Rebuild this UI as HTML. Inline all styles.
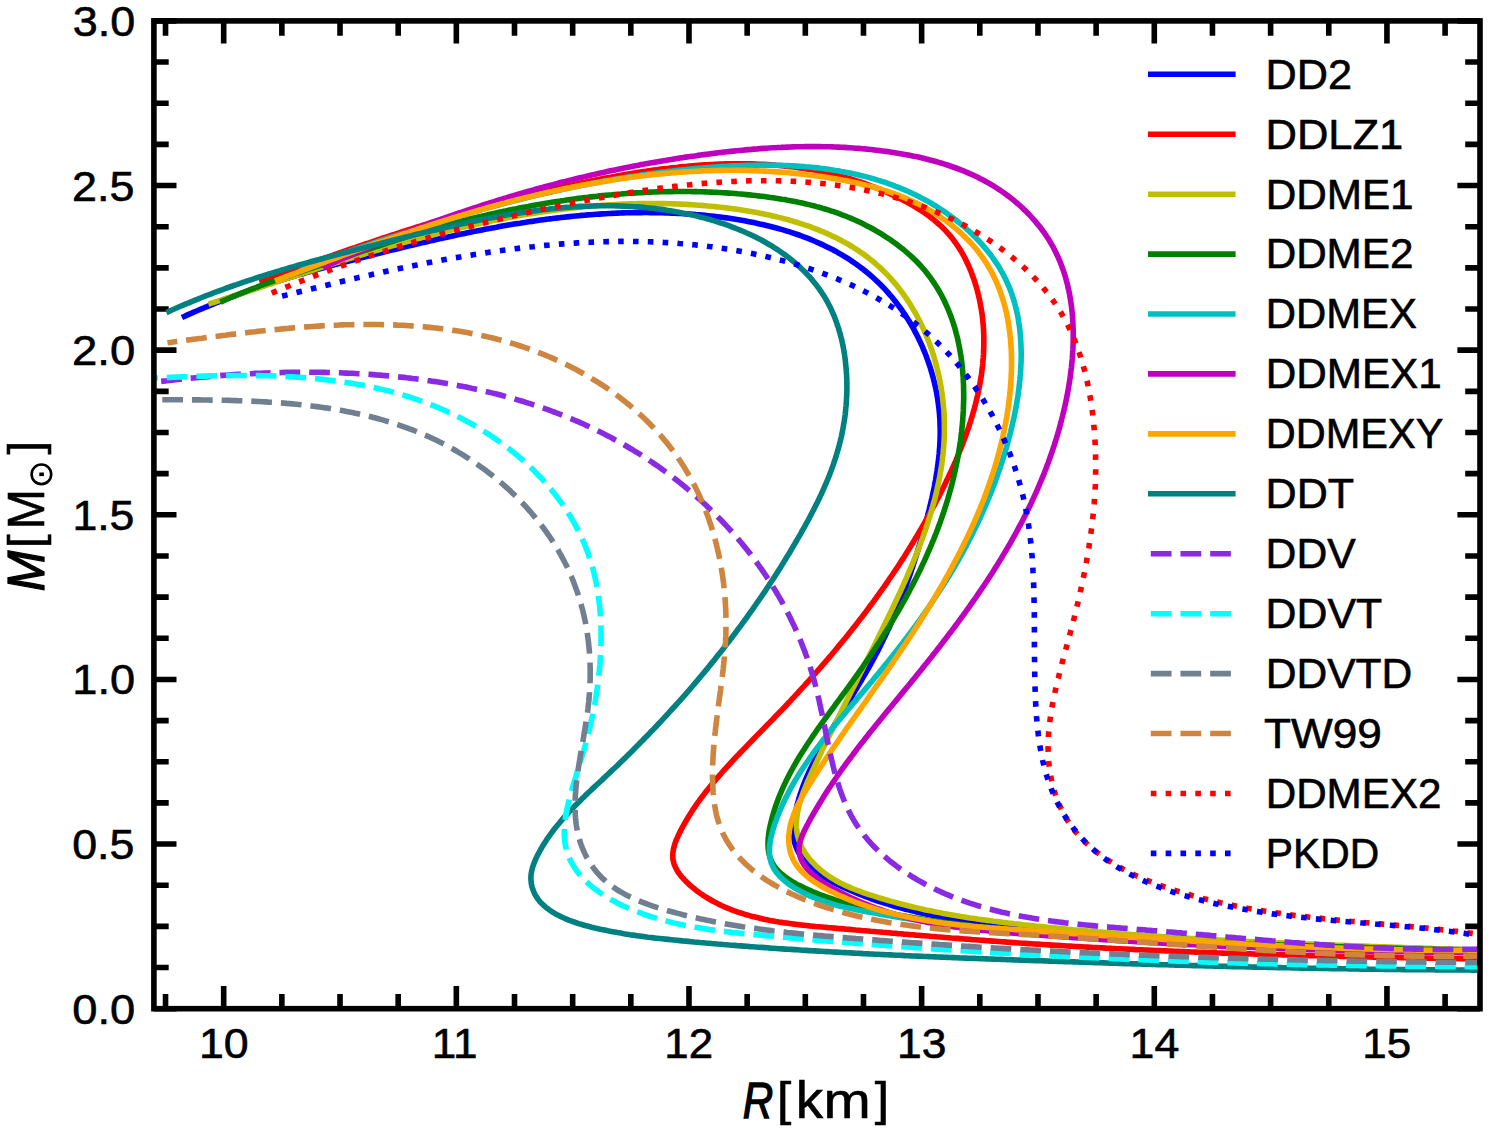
<!DOCTYPE html><html><head><meta charset="utf-8"><style>html,body{margin:0;padding:0;background:#fff;overflow:hidden}svg{display:block}text{font-family:"Liberation Sans",sans-serif;fill:#000;stroke:#000;stroke-width:0.6px}</style></head><body>
<svg width="1490" height="1130" viewBox="0 0 1490 1130">
<rect width="1490" height="1130" fill="#fff"/>
<path d="M165.53 1008.70v-14.8M165.53 20.90v14.8M223.69 1008.70v-22.6M223.69 20.90v22.6M281.86 1008.70v-14.8M281.86 20.90v14.8M340.02 1008.70v-14.8M340.02 20.90v14.8M398.18 1008.70v-14.8M398.18 20.90v14.8M456.34 1008.70v-22.6M456.34 20.90v22.6M514.51 1008.70v-14.8M514.51 20.90v14.8M572.67 1008.70v-14.8M572.67 20.90v14.8M630.83 1008.70v-14.8M630.83 20.90v14.8M688.99 1008.70v-22.6M688.99 20.90v22.6M747.16 1008.70v-14.8M747.16 20.90v14.8M805.32 1008.70v-14.8M805.32 20.90v14.8M863.48 1008.70v-14.8M863.48 20.90v14.8M921.64 1008.70v-22.6M921.64 20.90v22.6M979.80 1008.70v-14.8M979.80 20.90v14.8M1037.97 1008.70v-14.8M1037.97 20.90v14.8M1096.13 1008.70v-14.8M1096.13 20.90v14.8M1154.29 1008.70v-22.6M1154.29 20.90v22.6M1212.45 1008.70v-14.8M1212.45 20.90v14.8M1270.62 1008.70v-14.8M1270.62 20.90v14.8M1328.78 1008.70v-14.8M1328.78 20.90v14.8M1386.94 1008.70v-22.6M1386.94 20.90v22.6M1445.10 1008.70v-14.8M1445.10 20.90v14.8M153.90 1008.70h22.6M1480.00 1008.70h-22.6M153.90 967.54h14.8M1480.00 967.54h-14.8M153.90 926.38h14.8M1480.00 926.38h-14.8M153.90 885.23h14.8M1480.00 885.23h-14.8M153.90 844.07h22.6M1480.00 844.07h-22.6M153.90 802.91h14.8M1480.00 802.91h-14.8M153.90 761.75h14.8M1480.00 761.75h-14.8M153.90 720.59h14.8M1480.00 720.59h-14.8M153.90 679.43h22.6M1480.00 679.43h-22.6M153.90 638.28h14.8M1480.00 638.28h-14.8M153.90 597.12h14.8M1480.00 597.12h-14.8M153.90 555.96h14.8M1480.00 555.96h-14.8M153.90 514.80h22.6M1480.00 514.80h-22.6M153.90 473.64h14.8M1480.00 473.64h-14.8M153.90 432.48h14.8M1480.00 432.48h-14.8M153.90 391.33h14.8M1480.00 391.33h-14.8M153.90 350.17h22.6M1480.00 350.17h-22.6M153.90 309.01h14.8M1480.00 309.01h-14.8M153.90 267.85h14.8M1480.00 267.85h-14.8M153.90 226.69h14.8M1480.00 226.69h-14.8M153.90 185.53h22.6M1480.00 185.53h-22.6M153.90 144.38h14.8M1480.00 144.38h-14.8M153.90 103.22h14.8M1480.00 103.22h-14.8M153.90 62.06h14.8M1480.00 62.06h-14.8M153.90 20.90h22.6M1480.00 20.90h-22.6" stroke="#000" stroke-width="5.6" fill="none"/>
<g clip-path="url(#clip)">
<clipPath id="clip"><rect x="153.9" y="20.9" width="1326.1" height="987.8000000000001"/></clipPath>
<path d="M181.9 317.5 184.7 316.2 187.5 314.9 190.4 313.7 193.2 312.4 196.0 311.2 198.8 310.0 201.5 308.9 204.3 307.7 207.1 306.6 209.9 305.4 212.6 304.3 215.4 303.2 218.1 302.1 220.9 301.0 223.6 300.0 226.4 298.9 229.1 297.9 231.9 296.8 234.6 295.8 237.4 294.8 240.1 293.8 242.9 292.8 245.6 291.9 248.4 290.9 251.1 289.9 253.9 289.0 256.6 288.1 259.4 287.1 262.2 286.2 264.9 285.3 267.7 284.4 270.5 283.5 273.3 282.6 276.1 281.7 278.9 280.8 281.7 280.0 284.5 279.1 287.4 278.2 290.2 277.4 293.0 276.5 295.9 275.7 298.7 274.8 301.6 274.0 304.5 273.2 307.3 272.3 310.2 271.5 313.1 270.7 316.0 269.9 318.8 269.1 321.7 268.3 324.6 267.5 327.5 266.7 330.4 265.9 333.3 265.1 336.3 264.3 339.2 263.5 342.1 262.8 345.0 262.0 347.9 261.2 350.8 260.5 353.8 259.7 356.7 259.0 359.6 258.2 362.5 257.5 365.4 256.7 368.4 256.0 371.3 255.2 374.2 254.5 377.1 253.8 380.1 253.0 383.0 252.3 385.9 251.6 388.8 250.8 391.7 250.1 394.7 249.4 397.6 248.7 400.5 248.0 403.4 247.3 406.3 246.6 409.2 245.9 412.2 245.2 415.1 244.5 418.0 243.8 420.9 243.1 423.8 242.4 426.7 241.8 429.6 241.1 432.5 240.4 435.4 239.8 438.4 239.1 441.3 238.4 444.2 237.8 447.1 237.2 450.0 236.5 452.9 235.9 455.8 235.3 458.7 234.6 461.6 234.0 464.6 233.4 467.5 232.8 470.4 232.2 473.3 231.6 476.2 231.1 479.1 230.5 482.0 229.9 484.9 229.3 487.9 228.8 490.8 228.2 493.7 227.7 496.6 227.2 499.5 226.6 502.4 226.1 505.3 225.6 508.3 225.1 511.2 224.6 514.1 224.1 517.0 223.6 520.0 223.2 522.9 222.7 525.8 222.3 528.7 221.8 531.7 221.4 534.6 220.9 537.5 220.5 540.4 220.1 543.4 219.7 546.3 219.3 549.2 218.9 552.2 218.6 555.1 218.2 558.1 217.9 561.0 217.5 563.9 217.2 566.9 216.9 569.8 216.6 572.8 216.3 575.7 216.0 578.7 215.7 581.6 215.4 584.6 215.2 587.6 214.9 590.5 214.7 593.5 214.5 596.4 214.3 599.4 214.1 602.4 213.9 605.3 213.7 608.3 213.5 611.3 213.4 614.3 213.2 617.3 213.1 620.2 213.0 623.2 212.9 626.2 212.8 629.2 212.7 632.2 212.7 635.2 212.6 638.2 212.6 641.2 212.6 644.2 212.5 647.2 212.5 650.2 212.6 653.2 212.6 656.2 212.6 659.3 212.7 662.3 212.8 665.3 212.9 668.3 213.0 671.4 213.1 674.4 213.2 677.5 213.4 680.5 213.5 683.5 213.7 686.6 213.9 689.6 214.1 692.7 214.3 695.8 214.6 698.8 214.8 701.9 215.1 704.9 215.4 708.0 215.7 711.1 216.0 714.1 216.3 717.2 216.7 720.2 217.1 723.3 217.5 726.3 217.9 729.4 218.3 732.4 218.8 735.5 219.3 738.5 219.8 741.5 220.3 744.6 220.8 747.6 221.4 750.6 222.0 753.6 222.6 756.6 223.2 759.6 223.9 762.6 224.5 765.5 225.2 768.5 225.9 771.5 226.7 774.4 227.5 777.3 228.3 780.3 229.1 783.2 229.9 786.1 230.8 788.9 231.7 791.8 232.6 794.7 233.6 797.5 234.5 800.3 235.5 803.1 236.6 805.9 237.6 808.7 238.7 811.5 239.8 814.2 241.0 816.9 242.2 819.6 243.4 822.3 244.6 825.0 245.9 827.6 247.2 830.3 248.5 832.9 249.8 835.5 251.2 838.0 252.7 840.6 254.1 843.1 255.6 845.6 257.1 848.1 258.7 850.5 260.2 852.9 261.9 855.3 263.5 857.7 265.2 860.0 266.9 862.4 268.7 864.6 270.5 866.9 272.3 869.1 274.2 871.4 276.1 873.5 278.0 875.7 280.0 877.8 282.0 879.9 284.0 881.9 286.1 884.0 288.2 886.0 290.4 887.9 292.5 889.9 294.8 891.8 297.0 893.6 299.3 895.5 301.6 897.3 303.9 899.0 306.3 900.8 308.7 902.5 311.1 904.2 313.5 905.8 316.0 907.4 318.5 909.0 321.0 910.5 323.5 912.0 326.1 913.5 328.7 914.9 331.3 916.3 334.0 917.6 336.6 918.9 339.3 920.2 342.0 921.5 344.7 922.7 347.4 923.8 350.2 925.0 353.0 926.1 355.7 927.1 358.6 928.1 361.4 929.1 364.2 930.1 367.1 930.9 369.9 931.8 372.8 932.6 375.7 933.4 378.6 934.1 381.5 934.8 384.4 935.5 387.4 936.1 390.3 936.7 393.2 937.2 396.2 937.7 399.2 938.1 402.1 938.5 405.1 938.9 408.1 939.2 411.1 939.5 414.1 939.7 417.1 939.9 420.1 940.0 423.1 940.1 426.1 940.2 429.1 940.2 432.1 940.2 435.1 940.1 438.1 940.0 441.1 939.8 444.1 939.7 447.1 939.4 450.2 939.2 453.2 938.9 456.2 938.6 459.2 938.2 462.2 937.8 465.2 937.4 468.2 937.0 471.2 936.5 474.2 936.0 477.2 935.5 480.2 934.9 483.2 934.4 486.2 933.8 489.2 933.2 492.2 932.5 495.2 931.9 498.1 931.2 501.1 930.5 504.1 929.8 507.0 929.1 510.0 928.3 513.0 927.6 515.9 926.8 518.8 926.0 521.8 925.2 524.7 924.4 527.6 923.6 530.6 922.8 533.5 922.0 536.4 921.1 539.3 920.3 542.2 919.4 545.0 918.6 547.9 917.7 550.8 916.8 553.6 915.9 556.5 915.0 559.3 914.1 562.2 913.2 565.0 912.3 567.9 911.3 570.7 910.4 573.5 909.4 576.3 908.4 579.1 907.4 581.9 906.4 584.7 905.4 587.5 904.4 590.2 903.4 593.0 902.3 595.8 901.3 598.5 900.2 601.3 899.1 604.0 898.0 606.8 896.9 609.5 895.7 612.2 894.6 614.9 893.4 617.7 892.3 620.4 891.1 623.1 889.9 625.8 888.7 628.5 887.4 631.1 886.2 633.8 884.9 636.5 883.6 639.1 882.3 641.8 881.0 644.5 879.7 647.1 878.4 649.7 877.0 652.4 875.6 655.0 874.2 657.6 872.8 660.2 871.4 662.9 869.9 665.5 868.5 668.1 867.0 670.7 865.5 673.3 864.0 675.9 862.5 678.4 861.0 681.0 859.4 683.6 857.9 686.2 856.4 688.8 854.8 691.3 853.3 693.9 851.7 696.5 850.1 699.1 848.6 701.6 847.0 704.2 845.4 706.8 843.9 709.4 842.3 711.9 840.7 714.5 839.2 717.1 837.6 719.7 836.1 722.2 834.5 724.8 833.0 727.4 831.4 730.0 829.9 732.6 828.4 735.2 826.9 737.8 825.4 740.4 823.9 743.1 822.5 745.7 821.0 748.3 819.6 751.0 818.1 753.6 816.7 756.2 815.4 758.9 814.0 761.6 812.7 764.3 811.4 767.0 810.1 769.7 808.8 772.4 807.6 775.2 806.4 777.9 805.2 780.7 804.1 783.5 803.0 786.3 802.0 789.2 801.0 792.1 800.0 795.0 799.1 797.9 798.3 800.9 797.5 803.8 796.7 806.9 796.0 809.9 795.3 813.0 794.7 816.1 794.2 819.2 793.8 822.3 793.5 825.4 793.3 828.5 793.3 831.5 793.4 834.5 793.6 837.3 794.1 840.1 794.7 842.9 795.5 845.5 796.5 848.0 797.6 850.5 798.8 852.9 800.2 855.2 801.8 857.5 803.4 859.6 805.2 861.7 807.1 863.8 809.1 865.8 811.3 867.7 813.5 869.5 815.8 871.3 818.1 873.1 820.6 874.8 823.1 876.4 825.7 878.0 828.3 879.6 831.0 881.1 833.7 882.5 836.5 883.9 839.3 885.3 842.1 886.7 844.9 888.0 847.8 889.3 850.6 890.5 853.5 891.7 856.3 892.9 859.2 894.1 862.0 895.2 864.9 896.3 867.8 897.4 870.6 898.5 873.5 899.5 876.4 900.5 879.3 901.5 882.2 902.4 885.1 903.3 887.9 904.2 890.8 905.1 893.7 906.0 896.6 906.8 899.5 907.6 902.4 908.4 905.4 909.2 908.3 909.9 911.2 910.6 914.1 911.3 917.0 912.0 919.9 912.7 922.9 913.3 925.8 914.0 928.7 914.6 931.7 915.2 934.6 915.8 937.5 916.3 940.5 916.9 943.4 917.4 946.4 917.9 949.3 918.4 952.2 918.9 955.2 919.4 958.1 919.8 961.1 920.3 964.1 920.7 967.0 921.1 970.0 921.6 972.9 922.0 975.9 922.3 978.8 922.7 981.8 923.1 984.8 923.5 987.7 923.8 990.7 924.2 993.7 924.5 996.6 924.8 999.6 925.2 1002.6 925.5 1005.6 925.8 1008.5 926.1 1011.5 926.4 1014.5 926.7 1017.4 927.0 1020.4 927.3 1023.4 927.6 1026.4 927.8 1029.4 928.1 1032.3 928.4 1035.3 928.7 1038.3 928.9 1041.3 929.2 1044.2 929.5 1047.2 929.7 1050.2 930.0 1053.2 930.3 1056.2 930.5 1059.1 930.8 1062.1 931.0 1065.1 931.3 1068.1 931.5 1071.1 931.8 1074.0 932.0 1077.0 932.3 1080.0 932.5 1083.0 932.7 1086.0 933.0 1089.0 933.2 1091.9 933.4 1094.9 933.7 1097.9 933.9 1100.9 934.1 1103.9 934.3 1106.9 934.5 1109.8 934.8 1112.8 935.0 1115.8 935.2 1118.8 935.4 1121.8 935.6 1124.8 935.8 1127.8 936.0 1130.8 936.2 1133.7 936.4 1136.7 936.6 1139.7 936.8 1142.7 937.0 1145.7 937.2 1148.7 937.4 1151.7 937.6 1154.7 937.8 1157.7 937.9 1160.6 938.1 1163.6 938.3 1166.6 938.5 1169.6 938.7 1172.6 938.8 1175.6 939.0 1178.6 939.2 1181.6 939.3 1184.6 939.5 1187.6 939.7 1190.6 939.8 1193.6 940.0 1196.5 940.2 1199.5 940.3 1202.5 940.5 1205.5 940.6 1208.5 940.8 1211.5 940.9 1214.5 941.1 1217.5 941.2 1220.5 941.4 1223.5 941.5 1226.5 941.7 1229.5 941.8 1232.5 942.0 1235.5 942.1 1238.5 942.3 1241.4 942.4 1244.4 942.5 1247.4 942.7 1250.4 942.8 1253.4 942.9 1256.4 943.1 1259.4 943.2 1262.4 943.3 1265.4 943.4 1268.4 943.6 1271.4 943.7 1274.4 943.8 1277.4 943.9 1280.4 944.1 1283.4 944.2 1286.4 944.3 1289.4 944.4 1292.4 944.5 1295.4 944.6 1298.4 944.8 1301.4 944.9 1304.4 945.0 1307.4 945.1 1310.3 945.2 1313.3 945.3 1316.3 945.4 1319.3 945.5 1322.3 945.6 1325.3 945.7 1328.3 945.8 1331.3 945.9 1334.3 946.0 1337.3 946.1 1340.3 946.2 1343.3 946.3 1346.3 946.4 1349.3 946.5 1352.3 946.6 1355.3 946.7 1358.3 946.8 1361.3 946.9 1364.3 947.0 1367.3 947.1 1370.3 947.2 1373.3 947.3 1376.3 947.3 1379.3 947.4 1382.2 947.5 1385.2 947.6 1388.2 947.7 1391.2 947.8 1394.2 947.9 1397.2 948.0 1400.2 948.0 1403.2 948.1 1406.2 948.2 1409.2 948.3 1412.2 948.4 1415.2 948.5 1418.2 948.5 1421.2 948.6 1424.2 948.7 1427.2 948.8 1430.2 948.9 1433.1 948.9 1436.1 949.0 1439.1 949.1 1442.1 949.2 1445.1 949.2 1448.1 949.3 1451.1 949.4 1454.1 949.5 1457.1 949.6 1460.1 949.6 1463.1 949.7 1466.1 949.8 1469.1 949.9 1472.0 949.9 1475.0 950.0 1478.0 950.1 1481.0 950.2 1484.0 950.2 1487.0 950.3 1490.0 950.4" stroke="#0000ff" stroke-width="5.6" fill="none" stroke-linejoin="round"/>
<path d="M259.2 281.4 262.0 280.4 264.8 279.4 267.6 278.4 270.5 277.4 273.3 276.4 276.1 275.4 278.9 274.3 281.7 273.3 284.5 272.3 287.4 271.3 290.2 270.3 293.0 269.3 295.8 268.3 298.6 267.3 301.4 266.3 304.2 265.3 307.1 264.3 309.9 263.3 312.7 262.3 315.5 261.3 318.3 260.3 321.1 259.3 324.0 258.3 326.8 257.3 329.6 256.3 332.4 255.4 335.2 254.4 338.0 253.4 340.9 252.4 343.7 251.4 346.5 250.5 349.3 249.5 352.2 248.5 355.0 247.6 357.8 246.6 360.6 245.6 363.4 244.7 366.3 243.7 369.1 242.8 371.9 241.8 374.7 240.9 377.6 239.9 380.4 239.0 383.2 238.0 386.1 237.1 388.9 236.2 391.7 235.2 394.5 234.3 397.4 233.4 400.2 232.5 403.1 231.5 405.9 230.6 408.7 229.7 411.6 228.8 414.4 227.9 417.2 227.0 420.1 226.1 422.9 225.2 425.8 224.3 428.6 223.4 431.5 222.5 434.3 221.7 437.2 220.8 440.0 219.9 442.9 219.0 445.7 218.2 448.6 217.3 451.4 216.4 454.3 215.6 457.2 214.7 460.0 213.9 462.9 213.1 465.7 212.2 468.6 211.4 471.5 210.6 474.4 209.7 477.2 208.9 480.1 208.1 483.0 207.3 485.9 206.5 488.7 205.7 491.6 204.9 494.5 204.1 497.4 203.3 500.3 202.5 503.2 201.8 506.0 201.0 508.9 200.2 511.8 199.5 514.7 198.7 517.6 197.9 520.5 197.2 523.4 196.5 526.3 195.7 529.3 195.0 532.2 194.3 535.1 193.5 538.0 192.8 540.9 192.1 543.8 191.4 546.8 190.7 549.7 190.0 552.6 189.3 555.5 188.7 558.5 188.0 561.4 187.3 564.3 186.7 567.3 186.0 570.2 185.4 573.2 184.7 576.1 184.1 579.1 183.4 582.0 182.8 585.0 182.2 587.9 181.6 590.9 181.0 593.9 180.4 596.8 179.8 599.8 179.2 602.8 178.6 605.7 178.0 608.7 177.5 611.7 176.9 614.7 176.4 617.7 175.8 620.7 175.3 623.6 174.8 626.6 174.3 629.6 173.8 632.6 173.3 635.6 172.8 638.6 172.3 641.6 171.8 644.6 171.4 647.6 170.9 650.6 170.5 653.6 170.1 656.6 169.7 659.6 169.3 662.6 168.9 665.6 168.5 668.6 168.2 671.6 167.8 674.6 167.5 677.6 167.2 680.6 166.8 683.6 166.5 686.7 166.3 689.7 166.0 692.7 165.7 695.7 165.5 698.7 165.3 701.7 165.1 704.7 164.9 707.7 164.7 710.7 164.5 713.7 164.4 716.7 164.2 719.7 164.1 722.7 164.0 725.7 163.9 728.7 163.9 731.6 163.8 734.6 163.8 737.6 163.8 740.6 163.8 743.6 163.8 746.6 163.8 749.6 163.9 752.5 163.9 755.5 164.0 758.5 164.2 761.4 164.3 764.4 164.4 767.4 164.6 770.3 164.8 773.3 165.0 776.3 165.3 779.2 165.5 782.2 165.8 785.1 166.1 788.0 166.4 791.0 166.7 793.9 167.1 796.9 167.5 799.8 167.9 802.7 168.3 805.6 168.8 808.5 169.3 811.5 169.8 814.4 170.3 817.3 170.8 820.2 171.4 823.1 172.0 826.0 172.6 828.8 173.3 831.7 173.9 834.6 174.6 837.5 175.3 840.3 176.1 843.2 176.9 846.0 177.7 848.9 178.5 851.7 179.3 854.6 180.2 857.4 181.1 860.2 182.0 863.1 183.0 865.9 184.0 868.7 185.0 871.5 186.1 874.3 187.1 877.1 188.2 879.9 189.4 882.6 190.5 885.4 191.7 888.2 192.9 890.9 194.2 893.7 195.4 896.4 196.8 899.2 198.1 901.9 199.5 904.6 200.9 907.3 202.3 909.9 203.8 912.6 205.3 915.2 206.9 917.8 208.5 920.4 210.1 922.9 211.8 925.4 213.5 927.9 215.3 930.3 217.1 932.7 218.9 935.0 220.8 937.3 222.8 939.6 224.8 941.8 226.8 943.9 228.9 946.0 231.1 948.0 233.3 950.0 235.6 951.9 237.9 953.7 240.3 955.5 242.7 957.2 245.2 958.9 247.7 960.5 250.3 962.1 252.9 963.5 255.5 965.0 258.2 966.3 261.0 967.6 263.7 968.9 266.5 970.1 269.3 971.2 272.1 972.3 275.0 973.4 277.9 974.4 280.8 975.3 283.7 976.2 286.6 977.0 289.5 977.8 292.5 978.5 295.4 979.2 298.3 979.8 301.3 980.4 304.2 980.9 307.2 981.4 310.1 981.9 313.1 982.3 316.0 982.6 319.0 982.9 322.0 983.2 324.9 983.4 327.9 983.6 330.8 983.7 333.8 983.8 336.7 983.8 339.7 983.8 342.6 983.8 345.5 983.7 348.5 983.6 351.4 983.5 354.4 983.3 357.3 983.0 360.3 982.8 363.2 982.5 366.1 982.1 369.1 981.8 372.0 981.4 374.9 980.9 377.8 980.4 380.8 979.9 383.7 979.4 386.6 978.8 389.5 978.2 392.4 977.6 395.3 976.9 398.2 976.2 401.1 975.5 404.0 974.7 406.9 974.0 409.8 973.1 412.7 972.3 415.6 971.4 418.5 970.6 421.3 969.6 424.2 968.7 427.1 967.7 429.9 966.7 432.8 965.7 435.6 964.7 438.5 963.6 441.3 962.6 444.1 961.5 446.9 960.3 449.8 959.2 452.6 958.0 455.4 956.9 458.2 955.7 461.0 954.5 463.8 953.2 466.5 952.0 469.3 950.7 472.1 949.4 474.8 948.1 477.6 946.8 480.3 945.5 483.1 944.2 485.8 942.8 488.5 941.5 491.2 940.1 493.9 938.7 496.6 937.3 499.3 935.9 502.0 934.5 504.7 933.1 507.3 931.7 510.0 930.2 512.6 928.8 515.3 927.3 517.9 925.9 520.5 924.4 523.1 922.9 525.7 921.4 528.3 919.9 530.9 918.4 533.5 916.9 536.1 915.3 538.6 913.8 541.2 912.2 543.8 910.7 546.3 909.1 548.8 907.5 551.4 905.9 553.9 904.4 556.4 902.8 558.9 901.1 561.4 899.5 563.9 897.9 566.4 896.3 568.9 894.6 571.3 893.0 573.8 891.3 576.3 889.6 578.7 887.9 581.2 886.3 583.6 884.6 586.1 882.9 588.5 881.1 590.9 879.4 593.3 877.7 595.7 876.0 598.1 874.2 600.5 872.5 602.9 870.7 605.3 868.9 607.7 867.1 610.1 865.4 612.5 863.6 614.8 861.8 617.2 859.9 619.5 858.1 621.9 856.3 624.2 854.5 626.6 852.6 628.9 850.8 631.3 848.9 633.6 847.1 635.9 845.2 638.2 843.3 640.5 841.4 642.8 839.5 645.1 837.6 647.4 835.7 649.7 833.8 652.0 831.9 654.3 829.9 656.6 828.0 658.9 826.0 661.2 824.1 663.4 822.1 665.7 820.1 668.0 818.2 670.2 816.2 672.5 814.2 674.7 812.2 677.0 810.2 679.2 808.2 681.5 806.1 683.7 804.1 686.0 802.1 688.2 800.0 690.4 798.0 692.7 795.9 694.9 793.9 697.1 791.8 699.3 789.7 701.6 787.6 703.8 785.6 706.0 783.5 708.2 781.4 710.4 779.2 712.6 777.1 714.8 775.0 717.0 772.9 719.2 770.7 721.4 768.6 723.6 766.4 725.8 764.3 728.0 762.1 730.2 760.0 732.4 757.8 734.6 755.7 736.8 753.5 739.0 751.4 741.2 749.2 743.4 747.1 745.7 744.9 747.9 742.8 750.1 740.7 752.3 738.6 754.5 736.4 756.7 734.3 759.0 732.3 761.2 730.2 763.5 728.1 765.7 726.1 768.0 724.0 770.2 722.0 772.5 720.0 774.8 718.0 777.1 716.0 779.4 714.1 781.7 712.2 784.0 710.3 786.3 708.4 788.7 706.5 791.0 704.7 793.4 702.9 795.8 701.1 798.1 699.3 800.5 697.6 802.9 695.9 805.4 694.2 807.8 692.6 810.3 691.0 812.7 689.4 815.2 687.9 817.7 686.4 820.2 684.9 822.8 683.5 825.3 682.1 827.9 680.8 830.4 679.5 833.0 678.2 835.7 677.0 838.3 675.9 840.9 675.0 843.5 674.2 846.2 673.5 848.8 673.1 851.4 672.8 854.0 672.7 856.5 672.9 859.1 673.4 861.6 674.1 864.1 675.1 866.5 676.3 868.9 677.6 871.3 679.2 873.6 680.9 875.8 682.8 878.0 684.8 880.2 686.9 882.3 689.1 884.4 691.3 886.4 693.7 888.3 696.0 890.2 698.4 892.0 700.9 893.7 703.3 895.4 705.8 897.0 708.4 898.5 710.9 900.0 713.5 901.5 716.1 902.8 718.8 904.2 721.4 905.5 724.1 906.7 726.8 907.9 729.6 909.0 732.3 910.1 735.1 911.1 737.9 912.1 740.8 913.0 743.6 913.9 746.5 914.8 749.3 915.6 752.2 916.4 755.2 917.1 758.1 917.8 761.0 918.5 764.0 919.2 767.0 919.8 770.0 920.4 773.0 920.9 776.0 921.5 779.0 922.0 782.0 922.4 785.1 922.9 788.1 923.3 791.2 923.7 794.3 924.1 797.3 924.5 800.4 924.9 803.5 925.2 806.5 925.5 809.6 925.9 812.7 926.2 815.8 926.5 818.9 926.7 822.0 927.0 825.0 927.3 828.1 927.6 831.2 927.8 834.3 928.1 837.3 928.4 840.4 928.6 843.5 928.9 846.5 929.2 849.6 929.4 852.6 929.7 855.7 930.0 858.7 930.2 861.7 930.5 864.8 930.7 867.8 931.0 870.8 931.3 873.8 931.5 876.8 931.8 879.8 932.0 882.9 932.3 885.9 932.5 888.9 932.8 891.9 933.1 894.9 933.3 897.9 933.6 900.8 933.8 903.8 934.1 906.8 934.3 909.8 934.6 912.8 934.8 915.8 935.1 918.7 935.3 921.7 935.6 924.7 935.8 927.7 936.0 930.6 936.3 933.6 936.5 936.6 936.8 939.5 937.0 942.5 937.2 945.4 937.5 948.4 937.7 951.4 938.0 954.3 938.2 957.3 938.4 960.2 938.6 963.2 938.9 966.2 939.1 969.1 939.3 972.1 939.6 975.0 939.8 978.0 940.0 980.9 940.2 983.9 940.4 986.8 940.7 989.8 940.9 992.7 941.1 995.7 941.3 998.6 941.5 1001.6 941.7 1004.6 941.9 1007.5 942.2 1010.5 942.4 1013.4 942.6 1016.4 942.8 1019.3 943.0 1022.3 943.2 1025.3 943.4 1028.2 943.6 1031.2 943.8 1034.2 944.0 1037.1 944.1 1040.1 944.3 1043.1 944.5 1046.0 944.7 1049.0 944.9 1052.0 945.1 1055.0 945.3 1057.9 945.4 1060.9 945.6 1063.9 945.8 1066.9 946.0 1069.9 946.1 1072.8 946.3 1075.8 946.5 1078.8 946.6 1081.8 946.8 1084.8 947.0 1087.8 947.1 1090.8 947.3 1093.7 947.5 1096.7 947.6 1099.7 947.8 1102.7 947.9 1105.7 948.1 1108.7 948.2 1111.7 948.4 1114.7 948.5 1117.7 948.7 1120.7 948.8 1123.7 949.0 1126.7 949.1 1129.7 949.3 1132.7 949.4 1135.7 949.6 1138.7 949.7 1141.7 949.8 1144.7 950.0 1147.7 950.1 1150.7 950.2 1153.7 950.4 1156.7 950.5 1159.7 950.6 1162.7 950.8 1165.7 950.9 1168.7 951.0 1171.7 951.1 1174.7 951.3 1177.7 951.4 1180.7 951.5 1183.8 951.6 1186.8 951.7 1189.8 951.9 1192.8 952.0 1195.8 952.1 1198.8 952.2 1201.8 952.3 1204.8 952.4 1207.8 952.5 1210.9 952.6 1213.9 952.7 1216.9 952.9 1219.9 953.0 1222.9 953.1 1225.9 953.2 1228.9 953.3 1231.9 953.4 1235.0 953.5 1238.0 953.6 1241.0 953.7 1244.0 953.8 1247.0 953.9 1250.0 953.9 1253.0 954.0 1256.1 954.1 1259.1 954.2 1262.1 954.3 1265.1 954.4 1268.1 954.5 1271.1 954.6 1274.1 954.7 1277.2 954.8 1280.2 954.8 1283.2 954.9 1286.2 955.0 1289.2 955.1 1292.2 955.2 1295.2 955.3 1298.2 955.3 1301.3 955.4 1304.3 955.5 1307.3 955.6 1310.3 955.6 1313.3 955.7 1316.3 955.8 1319.3 955.9 1322.3 955.9 1325.3 956.0 1328.4 956.1 1331.4 956.2 1334.4 956.2 1337.4 956.3 1340.4 956.4 1343.4 956.4 1346.4 956.5 1349.4 956.6 1352.4 956.6 1355.4 956.7 1358.4 956.8 1361.4 956.8 1364.4 956.9 1367.4 957.0 1370.4 957.0 1373.4 957.1 1376.4 957.1 1379.4 957.2 1382.4 957.3 1385.4 957.3 1388.4 957.4 1391.4 957.4 1394.4 957.5 1397.4 957.5 1400.4 957.6 1403.4 957.7 1406.4 957.7 1409.4 957.8 1412.4 957.8 1415.4 957.9 1418.4 957.9 1421.4 958.0 1424.3 958.0 1427.3 958.1 1430.3 958.1 1433.3 958.2 1436.3 958.2 1439.3 958.3 1442.2 958.3 1445.2 958.4 1448.2 958.4 1451.2 958.5 1454.2 958.5 1457.1 958.6 1460.1 958.6 1463.1 958.7 1466.1 958.7 1469.0 958.8 1472.0 958.8 1475.0 958.9 1477.9 958.9 1480.9 959.0 1483.9 959.0 1486.8 959.1 1489.8 959.1" stroke="#ff0000" stroke-width="5.6" fill="none" stroke-linejoin="round"/>
<path d="M208.4 304.1 211.3 303.2 214.1 302.3 217.0 301.3 219.9 300.4 222.8 299.5 225.7 298.5 228.5 297.6 231.4 296.7 234.3 295.7 237.2 294.8 240.0 293.8 242.9 292.9 245.8 292.0 248.7 291.0 251.5 290.1 254.4 289.1 257.3 288.2 260.2 287.3 263.0 286.3 265.9 285.4 268.8 284.4 271.6 283.5 274.5 282.6 277.4 281.6 280.3 280.7 283.1 279.7 286.0 278.8 288.9 277.9 291.7 276.9 294.6 276.0 297.5 275.1 300.3 274.2 303.2 273.2 306.1 272.3 308.9 271.4 311.8 270.5 314.7 269.5 317.6 268.6 320.4 267.7 323.3 266.8 326.2 265.9 329.0 265.0 331.9 264.1 334.8 263.2 337.6 262.3 340.5 261.4 343.4 260.5 346.2 259.6 349.1 258.7 352.0 257.8 354.9 256.9 357.7 256.0 360.6 255.2 363.5 254.3 366.4 253.4 369.2 252.6 372.1 251.7 375.0 250.9 377.8 250.0 380.7 249.2 383.6 248.3 386.5 247.5 389.3 246.6 392.2 245.8 395.1 245.0 398.0 244.2 400.9 243.4 403.7 242.6 406.6 241.8 409.5 241.0 412.4 240.2 415.3 239.4 418.1 238.6 421.0 237.8 423.9 237.1 426.8 236.3 429.7 235.5 432.6 234.8 435.5 234.0 438.4 233.3 441.2 232.6 444.1 231.8 447.0 231.1 449.9 230.4 452.8 229.7 455.7 229.0 458.6 228.3 461.5 227.6 464.4 227.0 467.3 226.3 470.2 225.6 473.1 225.0 476.0 224.3 478.9 223.7 481.8 223.1 484.7 222.4 487.6 221.8 490.5 221.2 493.5 220.6 496.4 220.0 499.3 219.5 502.2 218.9 505.1 218.3 508.0 217.8 510.9 217.2 513.9 216.7 516.8 216.2 519.7 215.6 522.6 215.1 525.6 214.6 528.5 214.1 531.4 213.7 534.4 213.2 537.3 212.7 540.2 212.3 543.2 211.8 546.1 211.4 549.0 211.0 552.0 210.6 554.9 210.2 557.9 209.8 560.8 209.4 563.8 209.0 566.7 208.7 569.7 208.3 572.6 208.0 575.6 207.7 578.5 207.4 581.5 207.1 584.5 206.8 587.4 206.5 590.4 206.2 593.4 206.0 596.3 205.7 599.3 205.5 602.3 205.3 605.3 205.1 608.2 204.9 611.2 204.7 614.2 204.5 617.2 204.4 620.2 204.2 623.2 204.1 626.2 204.0 629.2 203.8 632.2 203.8 635.2 203.7 638.2 203.6 641.2 203.6 644.2 203.5 647.2 203.5 650.2 203.5 653.2 203.5 656.2 203.5 659.2 203.5 662.3 203.6 665.3 203.6 668.3 203.7 671.3 203.8 674.4 203.9 677.4 204.0 680.5 204.1 683.5 204.3 686.5 204.4 689.6 204.6 692.6 204.8 695.7 205.0 698.7 205.2 701.8 205.4 704.9 205.7 707.9 206.0 711.0 206.2 714.1 206.5 717.1 206.9 720.2 207.2 723.3 207.5 726.3 207.9 729.4 208.3 732.5 208.7 735.6 209.1 738.6 209.5 741.7 210.0 744.7 210.5 747.8 211.0 750.9 211.5 753.9 212.0 757.0 212.6 760.0 213.2 763.0 213.8 766.0 214.4 769.1 215.0 772.1 215.7 775.1 216.4 778.0 217.1 781.0 217.9 784.0 218.7 786.9 219.4 789.9 220.3 792.8 221.1 795.7 222.0 798.6 222.9 801.5 223.8 804.4 224.8 807.2 225.7 810.1 226.7 812.9 227.8 815.7 228.8 818.5 229.9 821.2 231.1 824.0 232.2 826.7 233.4 829.4 234.6 832.1 235.9 834.7 237.1 837.4 238.5 840.0 239.8 842.6 241.2 845.2 242.6 847.7 244.0 850.2 245.5 852.7 247.0 855.2 248.6 857.6 250.1 860.0 251.8 862.4 253.4 864.8 255.1 867.1 256.8 869.4 258.6 871.6 260.4 873.9 262.2 876.0 264.1 878.2 266.0 880.3 267.9 882.4 269.9 884.5 272.0 886.5 274.0 888.5 276.1 890.5 278.2 892.4 280.4 894.3 282.6 896.2 284.8 898.0 287.1 899.8 289.4 901.6 291.7 903.3 294.1 905.0 296.5 906.6 298.9 908.3 301.4 909.8 303.8 911.4 306.3 912.9 308.9 914.4 311.4 915.9 314.0 917.3 316.6 918.6 319.2 920.0 321.9 921.3 324.5 922.6 327.2 923.8 329.9 925.0 332.7 926.2 335.4 927.3 338.2 928.4 341.0 929.5 343.8 930.5 346.6 931.5 349.4 932.5 352.3 933.4 355.2 934.3 358.0 935.1 360.9 935.9 363.8 936.7 366.8 937.4 369.7 938.1 372.6 938.8 375.6 939.4 378.5 940.0 381.5 940.6 384.5 941.1 387.5 941.6 390.5 942.0 393.5 942.4 396.5 942.8 399.5 943.1 402.5 943.4 405.5 943.7 408.5 943.9 411.5 944.1 414.5 944.2 417.6 944.3 420.6 944.4 423.6 944.4 426.6 944.4 429.6 944.4 432.6 944.3 435.6 944.2 438.6 944.0 441.6 943.8 444.6 943.6 447.6 943.4 450.6 943.1 453.6 942.7 456.6 942.4 459.6 942.0 462.5 941.6 465.5 941.1 468.5 940.6 471.4 940.1 474.4 939.6 477.4 939.0 480.3 938.4 483.3 937.8 486.2 937.1 489.2 936.4 492.1 935.7 495.0 935.0 498.0 934.2 500.9 933.4 503.8 932.6 506.7 931.8 509.6 931.0 512.5 930.1 515.4 929.2 518.3 928.3 521.2 927.3 524.1 926.4 527.0 925.4 529.9 924.4 532.7 923.4 535.6 922.4 538.5 921.3 541.3 920.2 544.2 919.2 547.0 918.1 549.9 917.0 552.7 915.8 555.5 914.7 558.4 913.5 561.2 912.4 564.0 911.2 566.8 910.0 569.6 908.8 572.4 907.6 575.2 906.4 578.0 905.2 580.8 903.9 583.5 902.7 586.3 901.4 589.1 900.2 591.8 898.9 594.6 897.6 597.3 896.4 600.0 895.1 602.8 893.8 605.5 892.5 608.2 891.2 610.9 889.9 613.6 888.6 616.3 887.3 619.0 886.0 621.7 884.7 624.3 883.4 627.0 882.1 629.7 880.8 632.3 879.5 635.0 878.2 637.6 876.9 640.3 875.6 642.9 874.3 645.6 873.0 648.2 871.7 650.8 870.4 653.5 869.1 656.1 867.7 658.7 866.4 661.3 865.1 664.0 863.8 666.6 862.5 669.2 861.2 671.8 859.8 674.5 858.5 677.1 857.2 679.7 855.9 682.3 854.6 685.0 853.2 687.6 851.9 690.2 850.6 692.9 849.3 695.5 847.9 698.2 846.6 700.8 845.3 703.5 843.9 706.2 842.6 708.8 841.3 711.5 839.9 714.2 838.6 716.9 837.2 719.6 835.9 722.3 834.6 725.0 833.2 727.7 831.9 730.5 830.5 733.2 829.2 735.9 827.8 738.7 826.5 741.5 825.2 744.2 823.8 747.0 822.4 749.8 821.1 752.6 819.7 755.5 818.4 758.3 817.0 761.2 815.7 764.0 814.3 766.9 813.0 769.8 811.6 772.7 810.3 775.6 809.0 778.5 807.7 781.4 806.5 784.4 805.3 787.3 804.1 790.2 803.0 793.1 802.0 796.0 801.0 798.9 800.1 801.8 799.3 804.7 798.6 807.6 798.0 810.4 797.4 813.3 797.0 816.1 796.7 818.9 796.5 821.7 796.4 824.4 796.5 827.2 796.7 829.9 797.0 832.5 797.5 835.2 798.2 837.8 798.9 840.3 799.9 842.8 800.9 845.3 802.1 847.8 803.5 850.2 804.9 852.5 806.5 854.9 808.2 857.1 809.9 859.4 811.8 861.5 813.8 863.6 815.9 865.7 818.0 867.7 820.3 869.7 822.6 871.6 825.0 873.4 827.5 875.2 830.0 876.9 832.6 878.6 835.3 880.2 838.0 881.7 840.7 883.2 843.5 884.5 846.3 885.9 849.2 887.1 852.0 888.4 854.9 889.5 857.9 890.6 860.8 891.7 863.7 892.8 866.7 893.8 869.7 894.8 872.6 895.7 875.6 896.7 878.5 897.6 881.5 898.5 884.5 899.4 887.4 900.2 890.4 901.1 893.3 901.9 896.3 902.7 899.2 903.5 902.2 904.3 905.1 905.0 908.1 905.8 911.0 906.5 914.0 907.2 916.9 907.9 919.9 908.6 922.8 909.2 925.8 909.9 928.7 910.5 931.7 911.1 934.6 911.7 937.6 912.3 940.5 912.8 943.4 913.4 946.4 913.9 949.3 914.5 952.3 915.0 955.2 915.5 958.2 916.0 961.1 916.5 964.1 916.9 967.0 917.4 970.0 917.9 972.9 918.3 975.9 918.7 978.8 919.2 981.8 919.6 984.7 920.0 987.7 920.4 990.6 920.8 993.6 921.2 996.5 921.5 999.5 921.9 1002.4 922.3 1005.4 922.6 1008.3 923.0 1011.3 923.3 1014.2 923.7 1017.2 924.0 1020.2 924.3 1023.1 924.7 1026.1 925.0 1029.0 925.3 1032.0 925.6 1035.0 926.0 1037.9 926.3 1040.9 926.6 1043.9 926.9 1046.8 927.2 1049.8 927.5 1052.8 927.8 1055.7 928.1 1058.7 928.4 1061.7 928.6 1064.6 928.9 1067.6 929.2 1070.6 929.5 1073.6 929.8 1076.5 930.0 1079.5 930.3 1082.5 930.6 1085.5 930.8 1088.5 931.1 1091.4 931.3 1094.4 931.6 1097.4 931.9 1100.4 932.1 1103.4 932.3 1106.3 932.6 1109.3 932.8 1112.3 933.1 1115.3 933.3 1118.3 933.5 1121.3 933.8 1124.3 934.0 1127.2 934.2 1130.2 934.4 1133.2 934.7 1136.2 934.9 1139.2 935.1 1142.2 935.3 1145.2 935.5 1148.2 935.7 1151.2 935.9 1154.2 936.1 1157.1 936.3 1160.1 936.5 1163.1 936.7 1166.1 936.9 1169.1 937.1 1172.1 937.3 1175.1 937.5 1178.1 937.7 1181.1 937.8 1184.1 938.0 1187.1 938.2 1190.1 938.4 1193.1 938.5 1196.1 938.7 1199.1 938.9 1202.1 939.1 1205.1 939.2 1208.1 939.4 1211.1 939.6 1214.1 939.7 1217.1 939.9 1220.1 940.0 1223.1 940.2 1226.1 940.3 1229.1 940.5 1232.1 940.7 1235.1 940.8 1238.1 941.0 1241.1 941.1 1244.1 941.2 1247.1 941.4 1250.1 941.5 1253.1 941.7 1256.1 941.8 1259.1 942.0 1262.1 942.1 1265.1 942.2 1268.1 942.4 1271.1 942.5 1274.1 942.6 1277.2 942.8 1280.2 942.9 1283.2 943.0 1286.2 943.1 1289.2 943.3 1292.2 943.4 1295.2 943.5 1298.2 943.6 1301.2 943.8 1304.2 943.9 1307.2 944.0 1310.2 944.1 1313.2 944.2 1316.2 944.4 1319.2 944.5 1322.2 944.6 1325.2 944.7 1328.2 944.8 1331.2 944.9 1334.2 945.0 1337.2 945.2 1340.2 945.3 1343.2 945.4 1346.2 945.5 1349.2 945.6 1352.2 945.7 1355.2 945.8 1358.3 945.9 1361.3 946.0 1364.3 946.1 1367.3 946.2 1370.3 946.4 1373.3 946.5 1376.3 946.6 1379.3 946.7 1382.3 946.8 1385.3 946.9 1388.3 947.0 1391.2 947.1 1394.2 947.2 1397.2 947.3 1400.2 947.4 1403.2 947.5 1406.2 947.6 1409.2 947.7 1412.2 947.8 1415.2 947.9 1418.2 948.0 1421.2 948.1 1424.2 948.2 1427.2 948.3 1430.2 948.4 1433.2 948.6 1436.2 948.7 1439.2 948.8 1442.2 948.9 1445.1 949.0 1448.1 949.1 1451.1 949.2 1454.1 949.3 1457.1 949.4 1460.1 949.5 1463.1 949.6 1466.1 949.7 1469.0 949.8 1472.0 949.9 1475.0 950.1 1478.0 950.2 1481.0 950.3 1484.0 950.4 1486.9 950.5 1489.9 950.6" stroke="#bfbf00" stroke-width="5.6" fill="none" stroke-linejoin="round"/>
<path d="M220.3 302.1 223.1 300.9 225.8 299.7 228.6 298.5 231.4 297.3 234.1 296.1 236.9 295.0 239.7 293.8 242.5 292.7 245.3 291.6 248.0 290.5 250.8 289.4 253.6 288.3 256.4 287.3 259.2 286.2 262.0 285.2 264.8 284.2 267.6 283.2 270.5 282.1 273.3 281.1 276.1 280.2 278.9 279.2 281.7 278.2 284.5 277.2 287.4 276.3 290.2 275.3 293.0 274.4 295.9 273.4 298.7 272.5 301.5 271.5 304.4 270.6 307.2 269.7 310.0 268.7 312.9 267.8 315.7 266.8 318.6 265.9 321.4 265.0 324.3 264.0 327.1 263.1 330.0 262.2 332.8 261.2 335.7 260.3 338.5 259.3 341.4 258.4 344.2 257.4 347.1 256.5 349.9 255.5 352.8 254.5 355.6 253.6 358.5 252.6 361.3 251.7 364.2 250.7 367.0 249.8 369.9 248.8 372.7 247.9 375.6 246.9 378.5 246.0 381.3 245.0 384.2 244.1 387.0 243.1 389.9 242.2 392.7 241.3 395.6 240.4 398.4 239.4 401.3 238.5 404.2 237.6 407.0 236.7 409.9 235.8 412.7 234.9 415.6 234.1 418.4 233.2 421.3 232.3 424.1 231.5 427.0 230.6 429.8 229.8 432.7 229.0 435.5 228.1 438.4 227.3 441.2 226.5 444.1 225.8 446.9 225.0 449.8 224.2 452.6 223.4 455.5 222.7 458.4 221.9 461.2 221.2 464.1 220.5 467.0 219.8 469.8 219.0 472.7 218.3 475.6 217.6 478.5 216.9 481.4 216.3 484.3 215.6 487.2 214.9 490.1 214.2 493.0 213.6 495.9 212.9 498.8 212.3 501.8 211.7 504.7 211.1 507.6 210.4 510.5 209.8 513.5 209.2 516.4 208.7 519.4 208.1 522.3 207.5 525.3 206.9 528.2 206.4 531.2 205.8 534.1 205.3 537.1 204.8 540.1 204.3 543.0 203.8 546.0 203.3 549.0 202.8 551.9 202.3 554.9 201.8 557.9 201.4 560.9 200.9 563.9 200.5 566.8 200.0 569.8 199.6 572.8 199.2 575.8 198.8 578.8 198.4 581.8 198.0 584.8 197.6 587.8 197.3 590.8 196.9 593.8 196.6 596.8 196.3 599.8 195.9 602.8 195.6 605.8 195.3 608.8 195.0 611.8 194.8 614.8 194.5 617.8 194.2 620.8 194.0 623.8 193.7 626.8 193.5 629.9 193.3 632.9 193.1 635.9 192.9 638.9 192.7 641.9 192.6 644.9 192.4 647.9 192.3 650.9 192.1 653.9 192.0 656.9 191.9 660.0 191.8 663.0 191.7 666.0 191.7 669.0 191.6 672.0 191.6 675.0 191.5 678.0 191.5 681.0 191.5 684.0 191.5 687.0 191.5 690.0 191.5 693.0 191.6 696.0 191.6 699.0 191.7 702.0 191.8 705.0 191.9 708.0 192.0 710.9 192.1 713.9 192.2 716.9 192.4 719.9 192.5 722.9 192.7 725.9 192.9 728.8 193.1 731.8 193.3 734.8 193.5 737.7 193.8 740.7 194.0 743.7 194.3 746.6 194.6 749.6 194.9 752.5 195.2 755.5 195.5 758.4 195.9 761.4 196.2 764.3 196.6 767.3 197.0 770.2 197.4 773.1 197.8 776.0 198.2 779.0 198.7 781.9 199.2 784.8 199.6 787.7 200.2 790.6 200.7 793.5 201.2 796.4 201.8 799.3 202.4 802.2 203.0 805.1 203.7 808.0 204.4 810.8 205.1 813.7 205.8 816.6 206.6 819.4 207.3 822.3 208.2 825.1 209.0 828.0 209.9 830.8 210.8 833.6 211.7 836.4 212.7 839.3 213.7 842.1 214.8 844.9 215.8 847.7 217.0 850.5 218.1 853.2 219.3 856.0 220.5 858.8 221.8 861.5 223.1 864.3 224.5 867.0 225.9 869.8 227.3 872.5 228.8 875.2 230.3 877.9 231.9 880.5 233.4 883.2 235.1 885.8 236.8 888.4 238.5 891.0 240.2 893.5 242.0 896.0 243.8 898.5 245.7 900.9 247.6 903.4 249.5 905.7 251.5 908.0 253.5 910.3 255.5 912.6 257.6 914.8 259.7 916.9 261.8 919.0 264.0 921.0 266.2 923.0 268.5 925.0 270.7 926.8 273.0 928.7 275.4 930.4 277.7 932.1 280.1 933.8 282.6 935.4 285.0 937.0 287.5 938.5 290.0 940.0 292.6 941.4 295.1 942.7 297.7 944.1 300.3 945.3 303.0 946.5 305.6 947.7 308.3 948.8 311.0 949.9 313.7 951.0 316.5 951.9 319.2 952.9 322.0 953.8 324.8 954.7 327.6 955.5 330.5 956.2 333.3 957.0 336.2 957.7 339.1 958.3 342.0 958.9 344.9 959.5 347.8 960.0 350.7 960.5 353.7 961.0 356.6 961.4 359.6 961.8 362.6 962.1 365.5 962.4 368.5 962.7 371.5 962.9 374.5 963.2 377.6 963.3 380.6 963.5 383.6 963.6 386.6 963.6 389.6 963.7 392.7 963.7 395.7 963.7 398.7 963.6 401.8 963.5 404.8 963.4 407.8 963.3 410.9 963.1 413.9 962.9 416.9 962.7 419.9 962.5 422.9 962.2 425.9 961.9 429.0 961.6 431.9 961.2 434.9 960.9 437.9 960.5 440.9 960.0 443.9 959.6 446.8 959.1 449.8 958.6 452.7 958.1 455.7 957.6 458.6 957.0 461.6 956.5 464.5 955.8 467.4 955.2 470.3 954.6 473.2 953.9 476.1 953.2 479.0 952.5 481.9 951.8 484.8 951.0 487.7 950.2 490.5 949.4 493.4 948.6 496.3 947.8 499.1 946.9 502.0 946.0 504.8 945.1 507.6 944.2 510.5 943.3 513.3 942.3 516.1 941.3 518.9 940.4 521.7 939.3 524.5 938.3 527.3 937.3 530.1 936.2 532.9 935.1 535.6 934.0 538.4 932.9 541.2 931.7 543.9 930.6 546.7 929.4 549.4 928.2 552.2 927.0 554.9 925.8 557.6 924.6 560.3 923.3 563.1 922.0 565.8 920.8 568.5 919.5 571.2 918.1 573.9 916.8 576.6 915.5 579.2 914.1 581.9 912.7 584.6 911.3 587.2 909.9 589.9 908.5 592.6 907.1 595.2 905.7 597.9 904.2 600.5 902.7 603.1 901.3 605.8 899.8 608.4 898.3 611.0 896.7 613.6 895.2 616.2 893.7 618.8 892.1 621.4 890.6 624.0 889.0 626.6 887.4 629.2 885.8 631.7 884.2 634.3 882.6 636.9 880.9 639.4 879.3 642.0 877.6 644.5 876.0 647.1 874.3 649.6 872.6 652.2 871.0 654.7 869.3 657.2 867.6 659.7 865.8 662.3 864.1 664.8 862.4 667.3 860.6 669.8 858.9 672.3 857.2 674.8 855.4 677.2 853.6 679.7 851.9 682.2 850.1 684.7 848.3 687.1 846.5 689.6 844.7 692.1 842.9 694.5 841.1 697.0 839.3 699.4 837.5 701.9 835.7 704.3 833.9 706.8 832.1 709.2 830.3 711.7 828.5 714.1 826.7 716.6 824.9 719.0 823.2 721.5 821.4 723.9 819.7 726.4 817.9 728.8 816.2 731.3 814.5 733.8 812.8 736.2 811.1 738.7 809.4 741.2 807.7 743.7 806.1 746.2 804.5 748.7 802.9 751.2 801.3 753.7 799.7 756.3 798.2 758.8 796.7 761.3 795.2 763.9 793.7 766.5 792.3 769.0 790.9 771.6 789.5 774.2 788.2 776.9 786.8 779.5 785.6 782.1 784.3 784.8 783.1 787.4 781.9 790.1 780.7 792.8 779.6 795.5 778.5 798.3 777.5 801.0 776.5 803.8 775.5 806.5 774.6 809.3 773.7 812.2 772.9 815.0 772.1 817.8 771.4 820.7 770.7 823.6 770.0 826.5 769.4 829.4 769.0 832.3 768.6 835.3 768.2 838.1 768.1 841.0 768.0 843.9 768.1 846.7 768.3 849.4 768.7 852.1 769.2 854.8 770.0 857.4 770.9 859.9 772.0 862.4 773.4 864.7 774.9 867.0 776.7 869.2 778.6 871.3 780.8 873.3 783.1 875.2 785.5 877.1 788.0 878.9 790.7 880.6 793.4 882.3 796.2 883.9 799.1 885.4 802.1 886.8 805.0 888.3 808.0 889.6 810.9 890.9 813.9 892.2 816.9 893.4 819.8 894.5 822.7 895.6 825.6 896.7 828.6 897.7 831.5 898.7 834.4 899.7 837.3 900.6 840.2 901.5 843.1 902.4 846.0 903.2 848.9 904.0 851.8 904.8 854.7 905.5 857.6 906.3 860.4 907.0 863.3 907.7 866.2 908.3 869.1 909.0 872.0 909.6 874.9 910.3 877.8 910.9 880.7 911.5 883.6 912.1 886.6 912.7 889.5 913.3 892.4 913.9 895.3 914.4 898.2 915.0 901.2 915.5 904.1 916.0 907.0 916.6 910.0 917.1 912.9 917.6 915.8 918.0 918.8 918.5 921.7 919.0 924.7 919.5 927.6 919.9 930.6 920.4 933.5 920.8 936.5 921.2 939.4 921.6 942.4 922.1 945.4 922.5 948.3 922.9 951.3 923.2 954.3 923.6 957.2 924.0 960.2 924.4 963.2 924.7 966.1 925.1 969.1 925.4 972.1 925.8 975.0 926.1 978.0 926.5 981.0 926.8 984.0 927.1 987.0 927.4 989.9 927.7 992.9 928.0 995.9 928.3 998.9 928.6 1001.9 928.9 1004.8 929.2 1007.8 929.5 1010.8 929.8 1013.8 930.0 1016.8 930.3 1019.8 930.6 1022.8 930.8 1025.7 931.1 1028.7 931.4 1031.7 931.6 1034.7 931.9 1037.7 932.1 1040.7 932.4 1043.7 932.6 1046.7 932.9 1049.7 933.1 1052.6 933.3 1055.6 933.6 1058.6 933.8 1061.6 934.0 1064.6 934.2 1067.6 934.5 1070.6 934.7 1073.6 934.9 1076.6 935.1 1079.5 935.3 1082.5 935.5 1085.5 935.8 1088.5 936.0 1091.5 936.2 1094.5 936.4 1097.5 936.6 1100.5 936.8 1103.5 936.9 1106.5 937.1 1109.5 937.3 1112.5 937.5 1115.4 937.7 1118.4 937.9 1121.4 938.1 1124.4 938.2 1127.4 938.4 1130.4 938.6 1133.4 938.7 1136.4 938.9 1139.4 939.1 1142.4 939.2 1145.4 939.4 1148.4 939.6 1151.4 939.7 1154.4 939.9 1157.4 940.0 1160.4 940.2 1163.4 940.3 1166.3 940.5 1169.3 940.6 1172.3 940.8 1175.3 940.9 1178.3 941.1 1181.3 941.2 1184.3 941.3 1187.3 941.5 1190.3 941.6 1193.3 941.8 1196.3 941.9 1199.3 942.0 1202.3 942.1 1205.3 942.3 1208.3 942.4 1211.3 942.5 1214.3 942.6 1217.3 942.8 1220.3 942.9 1223.3 943.0 1226.3 943.1 1229.3 943.2 1232.3 943.4 1235.3 943.5 1238.3 943.6 1241.3 943.7 1244.3 943.8 1247.3 943.9 1250.3 944.0 1253.2 944.1 1256.2 944.2 1259.2 944.3 1262.2 944.4 1265.2 944.5 1268.2 944.6 1271.2 944.7 1274.2 944.8 1277.2 944.9 1280.2 945.0 1283.2 945.1 1286.2 945.2 1289.2 945.3 1292.2 945.4 1295.2 945.5 1298.2 945.6 1301.2 945.7 1304.2 945.8 1307.2 945.9 1310.2 946.0 1313.2 946.1 1316.2 946.2 1319.2 946.2 1322.2 946.3 1325.2 946.4 1328.2 946.5 1331.2 946.6 1334.2 946.7 1337.2 946.8 1340.2 946.8 1343.2 946.9 1346.2 947.0 1349.2 947.1 1352.2 947.2 1355.2 947.3 1358.2 947.3 1361.2 947.4 1364.2 947.5 1367.2 947.6 1370.2 947.7 1373.2 947.8 1376.2 947.8 1379.2 947.9 1382.1 948.0 1385.1 948.1 1388.1 948.2 1391.1 948.3 1394.1 948.3 1397.1 948.4 1400.1 948.5 1403.1 948.6 1406.1 948.7 1409.1 948.7 1412.1 948.8 1415.1 948.9 1418.1 949.0 1421.1 949.1 1424.1 949.2 1427.1 949.2 1430.1 949.3 1433.1 949.4 1436.1 949.5 1439.1 949.6 1442.1 949.7 1445.1 949.8 1448.1 949.8 1451.1 949.9 1454.1 950.0 1457.0 950.1 1460.0 950.2 1463.0 950.3 1466.0 950.4 1469.0 950.5 1472.0 950.6 1475.0 950.7 1478.0 950.8 1481.0 950.8 1484.0 950.9 1487.0 951.0 1490.0 951.1" stroke="#008000" stroke-width="5.6" fill="none" stroke-linejoin="round"/>
<path d="M299.8 268.4 302.6 267.4 305.5 266.4 308.3 265.4 311.2 264.4 314.0 263.4 316.9 262.4 319.7 261.4 322.6 260.4 325.4 259.4 328.3 258.4 331.1 257.4 334.0 256.5 336.8 255.5 339.7 254.5 342.5 253.5 345.4 252.5 348.2 251.6 351.1 250.6 353.9 249.6 356.8 248.6 359.6 247.7 362.4 246.7 365.3 245.8 368.1 244.8 371.0 243.8 373.8 242.9 376.7 241.9 379.5 241.0 382.4 240.0 385.2 239.1 388.1 238.2 390.9 237.2 393.8 236.3 396.6 235.4 399.5 234.5 402.3 233.5 405.2 232.6 408.0 231.7 410.9 230.8 413.7 229.9 416.6 229.0 419.4 228.1 422.3 227.2 425.1 226.3 428.0 225.4 430.8 224.5 433.7 223.7 436.6 222.8 439.4 221.9 442.3 221.0 445.1 220.2 448.0 219.3 450.8 218.5 453.7 217.6 456.6 216.8 459.4 215.9 462.3 215.1 465.2 214.3 468.0 213.4 470.9 212.6 473.8 211.8 476.6 211.0 479.5 210.2 482.4 209.4 485.2 208.6 488.1 207.8 491.0 207.0 493.9 206.2 496.7 205.5 499.6 204.7 502.5 203.9 505.4 203.2 508.3 202.4 511.1 201.7 514.0 200.9 516.9 200.2 519.8 199.5 522.7 198.8 525.6 198.0 528.5 197.3 531.3 196.6 534.2 195.9 537.1 195.2 540.0 194.5 542.9 193.9 545.8 193.2 548.7 192.5 551.6 191.9 554.5 191.2 557.4 190.5 560.4 189.9 563.3 189.3 566.2 188.6 569.1 188.0 572.0 187.4 574.9 186.8 577.8 186.2 580.8 185.6 583.7 185.0 586.6 184.4 589.5 183.9 592.5 183.3 595.4 182.7 598.3 182.2 601.3 181.6 604.2 181.1 607.1 180.6 610.1 180.1 613.0 179.5 616.0 179.0 618.9 178.5 621.9 178.0 624.8 177.6 627.8 177.1 630.7 176.6 633.7 176.2 636.6 175.7 639.6 175.3 642.6 174.8 645.5 174.4 648.5 174.0 651.5 173.6 654.5 173.2 657.4 172.8 660.4 172.4 663.4 172.0 666.4 171.7 669.4 171.3 672.4 171.0 675.4 170.6 678.4 170.3 681.4 170.0 684.4 169.7 687.4 169.4 690.4 169.1 693.4 168.8 696.4 168.5 699.4 168.2 702.4 168.0 705.4 167.7 708.5 167.5 711.5 167.3 714.5 167.0 717.6 166.8 720.6 166.6 723.6 166.4 726.7 166.3 729.7 166.1 732.7 165.9 735.8 165.8 738.8 165.7 741.9 165.6 744.9 165.5 748.0 165.4 751.0 165.3 754.1 165.2 757.1 165.2 760.2 165.2 763.2 165.1 766.2 165.1 769.3 165.2 772.3 165.2 775.4 165.2 778.4 165.3 781.4 165.4 784.5 165.5 787.5 165.6 790.5 165.8 793.5 165.9 796.6 166.1 799.6 166.3 802.6 166.5 805.6 166.8 808.6 167.0 811.6 167.3 814.6 167.6 817.6 167.9 820.6 168.3 823.5 168.6 826.5 169.0 829.5 169.4 832.4 169.9 835.4 170.4 838.3 170.8 841.3 171.4 844.2 171.9 847.2 172.5 850.1 173.0 853.0 173.7 855.9 174.3 858.8 175.0 861.7 175.7 864.6 176.4 867.4 177.1 870.3 177.9 873.1 178.7 876.0 179.6 878.8 180.4 881.6 181.3 884.5 182.2 887.3 183.2 890.0 184.2 892.8 185.2 895.6 186.3 898.4 187.3 901.1 188.5 903.8 189.6 906.6 190.8 909.3 192.0 912.0 193.2 914.7 194.5 917.3 195.8 920.0 197.2 922.6 198.6 925.3 200.0 927.9 201.4 930.5 202.9 933.1 204.5 935.7 206.0 938.2 207.6 940.8 209.3 943.3 210.9 945.8 212.6 948.3 214.4 950.7 216.1 953.1 218.0 955.5 219.8 957.9 221.7 960.3 223.6 962.6 225.5 964.9 227.5 967.1 229.5 969.4 231.5 971.6 233.6 973.7 235.7 975.8 237.8 977.9 240.0 980.0 242.1 982.0 244.4 983.9 246.6 985.9 248.9 987.7 251.2 989.6 253.5 991.4 255.9 993.1 258.3 994.8 260.7 996.4 263.1 998.0 265.6 999.6 268.1 1001.0 270.6 1002.5 273.1 1003.8 275.7 1005.2 278.3 1006.4 280.9 1007.6 283.6 1008.8 286.2 1009.9 288.9 1010.9 291.6 1011.9 294.4 1012.8 297.1 1013.7 299.9 1014.5 302.7 1015.3 305.5 1016.0 308.3 1016.7 311.2 1017.3 314.0 1017.9 316.9 1018.4 319.8 1018.8 322.7 1019.3 325.7 1019.7 328.6 1020.0 331.6 1020.3 334.5 1020.5 337.5 1020.7 340.5 1020.9 343.5 1021.0 346.5 1021.1 349.5 1021.2 352.5 1021.2 355.6 1021.1 358.6 1021.1 361.7 1020.9 364.7 1020.8 367.8 1020.6 370.8 1020.4 373.9 1020.1 377.0 1019.9 380.0 1019.5 383.1 1019.2 386.2 1018.8 389.3 1018.4 392.3 1018.0 395.4 1017.5 398.5 1017.0 401.6 1016.5 404.6 1015.9 407.7 1015.3 410.8 1014.7 413.8 1014.1 416.9 1013.4 419.9 1012.7 423.0 1012.0 426.0 1011.3 429.0 1010.6 432.1 1009.8 435.1 1009.0 438.1 1008.2 441.1 1007.4 444.0 1006.6 447.0 1005.7 450.0 1004.8 452.9 1003.9 455.8 1003.0 458.7 1002.1 461.7 1001.2 464.5 1000.2 467.4 999.2 470.3 998.2 473.2 997.2 476.0 996.2 478.9 995.2 481.7 994.1 484.5 993.0 487.3 992.0 490.1 990.9 492.9 989.7 495.7 988.6 498.4 987.5 501.2 986.3 503.9 985.1 506.7 983.9 509.4 982.7 512.1 981.5 514.8 980.3 517.5 979.0 520.2 977.8 522.9 976.5 525.5 975.2 528.2 973.9 530.8 972.6 533.5 971.3 536.1 969.9 538.7 968.5 541.4 967.2 544.0 965.8 546.6 964.4 549.2 963.0 551.7 961.6 554.3 960.1 556.9 958.7 559.5 957.2 562.0 955.7 564.6 954.3 567.1 952.8 569.6 951.2 572.2 949.7 574.7 948.2 577.2 946.6 579.7 945.1 582.2 943.5 584.7 941.9 587.2 940.3 589.6 938.7 592.1 937.1 594.6 935.5 597.0 933.9 599.5 932.2 602.0 930.6 604.4 928.9 606.8 927.2 609.3 925.5 611.7 923.8 614.1 922.1 616.5 920.4 619.0 918.7 621.4 916.9 623.8 915.2 626.2 913.4 628.6 911.7 631.0 909.9 633.4 908.1 635.7 906.3 638.1 904.5 640.5 902.7 642.9 900.9 645.2 899.0 647.6 897.2 650.0 895.4 652.3 893.5 654.7 891.6 657.0 889.8 659.4 887.9 661.7 886.0 664.1 884.1 666.4 882.2 668.8 880.3 671.1 878.4 673.5 876.4 675.8 874.5 678.1 872.6 680.5 870.6 682.8 868.7 685.1 866.7 687.4 864.7 689.8 862.8 692.1 860.8 694.4 858.8 696.7 856.8 699.1 854.9 701.4 852.9 703.7 850.9 706.1 848.9 708.4 847.0 710.7 845.0 713.1 843.0 715.4 841.1 717.8 839.1 720.1 837.2 722.5 835.2 724.9 833.3 727.2 831.4 729.6 829.5 732.0 827.5 734.4 825.7 736.8 823.8 739.2 821.9 741.6 820.1 744.0 818.2 746.4 816.4 748.9 814.6 751.3 812.8 753.7 811.1 756.2 809.3 758.7 807.6 761.2 805.9 763.7 804.2 766.2 802.5 768.7 800.9 771.2 799.3 773.8 797.7 776.3 796.2 778.9 794.6 781.5 793.1 784.1 791.6 786.7 790.2 789.3 788.8 792.0 787.4 794.7 786.0 797.3 784.7 800.0 783.4 802.7 782.2 805.5 781.0 808.2 779.8 811.0 778.6 813.8 777.5 816.6 776.5 819.4 775.4 822.2 774.4 825.1 773.5 828.0 772.7 830.8 771.9 833.7 771.2 836.6 770.6 839.5 770.1 842.3 769.7 845.1 769.5 847.9 769.4 850.7 769.5 853.4 769.7 856.1 770.2 858.7 770.8 861.3 771.6 863.8 772.7 866.2 773.9 868.6 775.4 870.8 777.0 873.1 778.8 875.2 780.7 877.3 782.9 879.3 785.1 881.2 787.5 883.1 789.9 884.9 792.5 886.6 795.2 888.3 797.9 889.9 800.7 891.4 803.5 892.8 806.3 894.2 809.2 895.6 812.1 896.8 815.0 898.0 817.9 899.1 820.8 900.2 823.8 901.2 826.7 902.2 829.7 903.1 832.6 904.0 835.5 904.9 838.5 905.7 841.5 906.4 844.4 907.1 847.4 907.8 850.4 908.5 853.4 909.1 856.3 909.7 859.3 910.3 862.3 910.9 865.3 911.5 868.3 912.0 871.2 912.6 874.2 913.1 877.2 913.6 880.2 914.2 883.1 914.7 886.1 915.2 889.1 915.7 892.1 916.2 895.0 916.7 898.0 917.2 901.0 917.7 904.0 918.1 906.9 918.6 909.9 919.1 912.9 919.5 915.8 920.0 918.8 920.4 921.8 920.9 924.7 921.3 927.7 921.7 930.7 922.1 933.6 922.6 936.6 923.0 939.6 923.4 942.5 923.8 945.5 924.2 948.5 924.6 951.4 925.0 954.4 925.3 957.4 925.7 960.3 926.1 963.3 926.5 966.3 926.8 969.2 927.2 972.2 927.5 975.1 927.9 978.1 928.2 981.1 928.6 984.0 928.9 987.0 929.2 990.0 929.5 992.9 929.9 995.9 930.2 998.9 930.5 1001.8 930.8 1004.8 931.1 1007.8 931.4 1010.8 931.7 1013.7 932.0 1016.7 932.3 1019.7 932.6 1022.6 932.9 1025.6 933.1 1028.6 933.4 1031.6 933.7 1034.5 934.0 1037.5 934.2 1040.5 934.5 1043.5 934.8 1046.4 935.0 1049.4 935.3 1052.4 935.5 1055.4 935.8 1058.4 936.0 1061.3 936.2 1064.3 936.5 1067.3 936.7 1070.3 936.9 1073.3 937.2 1076.3 937.4 1079.2 937.6 1082.2 937.8 1085.2 938.0 1088.2 938.3 1091.2 938.5 1094.2 938.7 1097.2 938.9 1100.2 939.1 1103.1 939.3 1106.1 939.5 1109.1 939.7 1112.1 939.9 1115.1 940.0 1118.1 940.2 1121.1 940.4 1124.1 940.6 1127.1 940.8 1130.1 941.0 1133.1 941.1 1136.1 941.3 1139.1 941.5 1142.1 941.6 1145.1 941.8 1148.0 942.0 1151.0 942.1 1154.0 942.3 1157.0 942.4 1160.0 942.6 1163.0 942.7 1166.0 942.9 1169.0 943.0 1172.0 943.2 1175.0 943.3 1178.0 943.5 1181.0 943.6 1184.0 943.7 1187.0 943.9 1190.0 944.0 1193.0 944.1 1196.0 944.3 1199.0 944.4 1202.0 944.5 1205.0 944.6 1208.0 944.8 1211.0 944.9 1214.0 945.0 1217.0 945.1 1220.1 945.2 1223.1 945.4 1226.1 945.5 1229.1 945.6 1232.1 945.7 1235.1 945.8 1238.1 945.9 1241.1 946.0 1244.1 946.1 1247.1 946.2 1250.1 946.3 1253.1 946.4 1256.1 946.5 1259.1 946.6 1262.1 946.7 1265.1 946.8 1268.1 946.9 1271.1 947.0 1274.1 947.1 1277.1 947.2 1280.1 947.3 1283.1 947.4 1286.1 947.5 1289.1 947.6 1292.2 947.7 1295.2 947.8 1298.2 947.9 1301.2 948.0 1304.2 948.0 1307.2 948.1 1310.2 948.2 1313.2 948.3 1316.2 948.4 1319.2 948.5 1322.2 948.6 1325.2 948.6 1328.2 948.7 1331.2 948.8 1334.2 948.9 1337.2 949.0 1340.2 949.1 1343.2 949.1 1346.2 949.2 1349.2 949.3 1352.2 949.4 1355.2 949.5 1358.2 949.6 1361.2 949.6 1364.2 949.7 1367.2 949.8 1370.2 949.9 1373.2 950.0 1376.2 950.1 1379.2 950.1 1382.2 950.2 1385.2 950.3 1388.2 950.4 1391.2 950.5 1394.2 950.5 1397.2 950.6 1400.2 950.7 1403.2 950.8 1406.2 950.9 1409.2 951.0 1412.2 951.1 1415.2 951.1 1418.2 951.2 1421.2 951.3 1424.2 951.4 1427.2 951.5 1430.2 951.6 1433.2 951.7 1436.2 951.8 1439.1 951.9 1442.1 952.0 1445.1 952.1 1448.1 952.1 1451.1 952.2 1454.1 952.3 1457.1 952.4 1460.1 952.5 1463.1 952.6 1466.0 952.7 1469.0 952.8 1472.0 952.9 1475.0 953.0 1478.0 953.1 1481.0 953.3 1484.0 953.4 1486.9 953.5 1489.9 953.6" stroke="#00bfbf" stroke-width="5.6" fill="none" stroke-linejoin="round"/>
<path d="M322.9 267.6 325.6 266.4 328.3 265.1 331.0 263.9 333.8 262.7 336.5 261.5 339.2 260.2 342.0 259.0 344.7 257.8 347.4 256.6 350.2 255.4 352.9 254.2 355.7 253.0 358.4 251.8 361.2 250.7 363.9 249.5 366.7 248.3 369.5 247.2 372.2 246.0 375.0 244.9 377.7 243.7 380.5 242.6 383.3 241.4 386.1 240.3 388.8 239.2 391.6 238.1 394.4 237.0 397.2 235.9 400.0 234.8 402.8 233.7 405.6 232.6 408.4 231.5 411.1 230.4 413.9 229.3 416.8 228.3 419.6 227.2 422.4 226.2 425.2 225.1 428.0 224.1 430.8 223.0 433.6 222.0 436.4 221.0 439.2 220.0 442.1 219.0 444.9 218.0 447.7 217.0 450.5 216.0 453.4 215.0 456.2 214.0 459.0 213.0 461.9 212.1 464.7 211.1 467.6 210.1 470.4 209.2 473.3 208.2 476.1 207.3 479.0 206.4 481.8 205.4 484.7 204.5 487.5 203.6 490.4 202.7 493.2 201.8 496.1 200.9 499.0 200.0 501.8 199.1 504.7 198.3 507.6 197.4 510.4 196.5 513.3 195.7 516.2 194.8 519.1 194.0 521.9 193.1 524.8 192.3 527.7 191.5 530.6 190.7 533.5 189.9 536.4 189.0 539.3 188.2 542.2 187.5 545.0 186.7 547.9 185.9 550.8 185.1 553.7 184.4 556.6 183.6 559.5 182.8 562.5 182.1 565.4 181.4 568.3 180.6 571.2 179.9 574.1 179.2 577.0 178.5 579.9 177.8 582.8 177.1 585.7 176.4 588.7 175.7 591.6 175.0 594.5 174.4 597.4 173.7 600.4 173.0 603.3 172.4 606.2 171.8 609.2 171.1 612.1 170.5 615.0 169.9 618.0 169.3 620.9 168.7 623.8 168.1 626.8 167.5 629.7 166.9 632.6 166.3 635.6 165.7 638.5 165.2 641.5 164.6 644.4 164.1 647.4 163.5 650.3 163.0 653.3 162.5 656.2 161.9 659.2 161.4 662.1 160.9 665.1 160.4 668.1 159.9 671.0 159.5 674.0 159.0 676.9 158.5 679.9 158.0 682.9 157.6 685.8 157.1 688.8 156.7 691.8 156.3 694.7 155.9 697.7 155.4 700.7 155.0 703.7 154.6 706.6 154.2 709.6 153.9 712.6 153.5 715.6 153.1 718.5 152.7 721.5 152.4 724.5 152.0 727.5 151.7 730.5 151.4 733.4 151.1 736.4 150.8 739.4 150.5 742.4 150.2 745.4 149.9 748.4 149.6 751.3 149.4 754.3 149.1 757.3 148.9 760.3 148.6 763.3 148.4 766.3 148.2 769.3 148.0 772.3 147.8 775.3 147.7 778.3 147.5 781.2 147.4 784.2 147.2 787.2 147.1 790.2 147.0 793.2 146.9 796.2 146.8 799.2 146.7 802.2 146.7 805.2 146.6 808.2 146.6 811.2 146.6 814.2 146.6 817.1 146.6 820.1 146.6 823.1 146.7 826.1 146.7 829.1 146.8 832.1 146.9 835.1 147.0 838.1 147.1 841.1 147.3 844.1 147.4 847.0 147.6 850.0 147.8 853.0 148.0 856.0 148.2 859.0 148.4 862.0 148.7 865.0 148.9 867.9 149.2 870.9 149.5 873.9 149.9 876.9 150.2 879.9 150.6 882.8 151.0 885.8 151.4 888.8 151.8 891.8 152.2 894.7 152.7 897.7 153.2 900.7 153.7 903.7 154.2 906.6 154.7 909.6 155.3 912.5 155.9 915.5 156.5 918.4 157.1 921.4 157.8 924.3 158.5 927.2 159.2 930.1 160.0 933.0 160.7 935.9 161.5 938.8 162.4 941.7 163.2 944.5 164.1 947.4 165.0 950.2 166.0 953.0 167.0 955.9 168.0 958.6 169.0 961.4 170.1 964.2 171.2 966.9 172.4 969.7 173.6 972.4 174.8 975.1 176.0 977.8 177.3 980.4 178.7 983.1 180.0 985.7 181.5 988.3 182.9 990.8 184.4 993.4 185.9 995.9 187.5 998.4 189.1 1000.9 190.8 1003.4 192.5 1005.8 194.2 1008.2 196.0 1010.6 197.8 1012.9 199.7 1015.2 201.6 1017.5 203.5 1019.8 205.5 1022.0 207.5 1024.1 209.6 1026.3 211.6 1028.4 213.8 1030.4 215.9 1032.4 218.1 1034.4 220.3 1036.3 222.6 1038.2 224.8 1040.0 227.1 1041.8 229.5 1043.6 231.9 1045.2 234.2 1046.9 236.7 1048.5 239.1 1050.0 241.6 1051.4 244.1 1052.9 246.6 1054.2 249.2 1055.5 251.8 1056.8 254.4 1058.0 257.0 1059.2 259.6 1060.3 262.3 1061.3 265.0 1062.3 267.7 1063.3 270.4 1064.2 273.2 1065.1 275.9 1065.9 278.7 1066.6 281.5 1067.4 284.3 1068.0 287.2 1068.7 290.0 1069.3 292.9 1069.8 295.8 1070.3 298.7 1070.8 301.6 1071.2 304.5 1071.6 307.4 1071.9 310.3 1072.2 313.3 1072.5 316.3 1072.7 319.2 1072.9 322.2 1073.0 325.2 1073.1 328.2 1073.2 331.2 1073.2 334.2 1073.2 337.2 1073.2 340.3 1073.1 343.3 1073.0 346.3 1072.9 349.4 1072.7 352.4 1072.5 355.4 1072.3 358.5 1072.0 361.5 1071.7 364.6 1071.4 367.6 1071.0 370.7 1070.6 373.7 1070.2 376.8 1069.8 379.8 1069.3 382.8 1068.8 385.9 1068.3 388.9 1067.8 391.9 1067.2 395.0 1066.6 398.0 1066.0 401.0 1065.4 404.0 1064.7 407.0 1064.0 410.0 1063.3 413.0 1062.6 415.9 1061.8 418.9 1061.1 421.8 1060.3 424.8 1059.5 427.7 1058.7 430.6 1057.8 433.5 1057.0 436.4 1056.1 439.3 1055.2 442.2 1054.3 445.1 1053.3 448.0 1052.4 450.8 1051.4 453.7 1050.4 456.5 1049.4 459.3 1048.4 462.2 1047.3 465.0 1046.3 467.8 1045.2 470.6 1044.1 473.4 1043.0 476.1 1041.8 478.9 1040.7 481.7 1039.5 484.4 1038.4 487.2 1037.2 489.9 1036.0 492.6 1034.7 495.4 1033.5 498.1 1032.2 500.8 1031.0 503.5 1029.7 506.2 1028.4 508.8 1027.1 511.5 1025.8 514.2 1024.4 516.9 1023.1 519.5 1021.7 522.2 1020.3 524.8 1018.9 527.4 1017.5 530.1 1016.1 532.7 1014.6 535.3 1013.2 537.9 1011.7 540.5 1010.3 543.1 1008.8 545.7 1007.3 548.2 1005.8 550.8 1004.2 553.4 1002.7 555.9 1001.2 558.5 999.6 561.0 998.0 563.6 996.5 566.1 994.9 568.6 993.3 571.2 991.7 573.7 990.0 576.2 988.4 578.7 986.8 581.2 985.1 583.7 983.5 586.2 981.8 588.6 980.1 591.1 978.4 593.6 976.8 596.1 975.1 598.5 973.3 601.0 971.6 603.4 969.9 605.9 968.2 608.3 966.4 610.7 964.7 613.2 962.9 615.6 961.1 618.0 959.4 620.4 957.6 622.9 955.8 625.3 954.0 627.7 952.2 630.1 950.4 632.5 948.6 634.8 946.8 637.2 945.0 639.6 943.1 642.0 941.3 644.4 939.5 646.7 937.6 649.1 935.8 651.5 933.9 653.8 932.1 656.2 930.2 658.5 928.4 660.9 926.5 663.2 924.6 665.6 922.7 667.9 920.9 670.2 919.0 672.6 917.1 674.9 915.2 677.2 913.3 679.6 911.4 681.9 909.5 684.2 907.6 686.5 905.7 688.8 903.8 691.1 901.9 693.4 900.0 695.8 898.1 698.1 896.2 700.4 894.3 702.7 892.4 705.0 890.5 707.3 888.6 709.6 886.7 711.9 884.8 714.2 882.9 716.5 881.0 718.9 879.1 721.2 877.3 723.5 875.4 725.8 873.5 728.2 871.6 730.5 869.7 732.8 867.9 735.2 866.0 737.5 864.2 739.9 862.3 742.3 860.5 744.6 858.6 747.0 856.8 749.4 855.0 751.8 853.2 754.2 851.4 756.6 849.6 759.0 847.8 761.4 846.0 763.8 844.2 766.3 842.5 768.7 840.7 771.2 839.0 773.7 837.2 776.2 835.5 778.7 833.8 781.2 832.1 783.7 830.4 786.2 828.7 788.8 827.1 791.3 825.4 793.9 823.8 796.5 822.2 799.1 820.6 801.7 819.0 804.3 817.4 807.0 815.8 809.6 814.3 812.3 812.7 815.0 811.2 817.7 809.7 820.4 808.2 823.2 806.7 825.9 805.3 828.7 804.0 831.5 802.8 834.2 801.7 837.0 800.7 839.7 800.0 842.4 799.4 845.0 799.1 847.6 799.1 850.1 799.3 852.6 799.7 855.0 800.4 857.4 801.3 859.7 802.4 862.0 803.7 864.2 805.2 866.3 806.9 868.4 808.7 870.5 810.6 872.5 812.7 874.4 815.0 876.3 817.3 878.2 819.7 880.0 822.3 881.8 824.9 883.5 827.5 885.2 830.3 886.8 833.0 888.4 835.8 890.0 838.6 891.5 841.5 893.0 844.3 894.4 847.1 895.8 849.9 897.2 852.8 898.5 855.6 899.8 858.5 901.1 861.3 902.3 864.2 903.5 867.1 904.7 869.9 905.8 872.8 906.9 875.7 908.0 878.5 909.0 881.4 910.0 884.3 911.0 887.2 911.9 890.1 912.8 893.0 913.7 895.9 914.6 898.8 915.4 901.7 916.2 904.6 917.0 907.5 917.7 910.4 918.5 913.4 919.2 916.3 919.9 919.2 920.5 922.1 921.2 925.1 921.8 928.0 922.4 930.9 922.9 933.9 923.5 936.8 924.0 939.8 924.6 942.7 925.1 945.7 925.5 948.6 926.0 951.6 926.5 954.5 926.9 957.5 927.3 960.5 927.7 963.4 928.1 966.4 928.5 969.3 928.8 972.3 929.2 975.3 929.5 978.2 929.9 981.2 930.2 984.2 930.5 987.2 930.8 990.1 931.1 993.1 931.4 996.1 931.6 999.1 931.9 1002.0 932.2 1005.0 932.4 1008.0 932.7 1011.0 932.9 1014.0 933.1 1017.0 933.4 1019.9 933.6 1022.9 933.9 1025.9 934.1 1028.9 934.3 1031.9 934.5 1034.8 934.8 1037.8 935.0 1040.8 935.2 1043.8 935.5 1046.8 935.7 1049.8 935.9 1052.8 936.1 1055.7 936.3 1058.7 936.5 1061.7 936.8 1064.7 937.0 1067.7 937.2 1070.7 937.4 1073.7 937.6 1076.6 937.8 1079.6 938.0 1082.6 938.2 1085.6 938.4 1088.6 938.6 1091.6 938.8 1094.6 939.0 1097.6 939.2 1100.6 939.4 1103.5 939.6 1106.5 939.8 1109.5 940.0 1112.5 940.2 1115.5 940.4 1118.5 940.6 1121.5 940.8 1124.5 940.9 1127.5 941.1 1130.5 941.3 1133.4 941.5 1136.4 941.7 1139.4 941.8 1142.4 942.0 1145.4 942.2 1148.4 942.4 1151.4 942.5 1154.4 942.7 1157.4 942.9 1160.4 943.0 1163.4 943.2 1166.4 943.4 1169.4 943.5 1172.3 943.7 1175.3 943.9 1178.3 944.0 1181.3 944.2 1184.3 944.3 1187.3 944.5 1190.3 944.6 1193.3 944.8 1196.3 944.9 1199.3 945.1 1202.3 945.2 1205.3 945.4 1208.3 945.5 1211.3 945.7 1214.3 945.8 1217.3 946.0 1220.3 946.1 1223.2 946.2 1226.2 946.4 1229.2 946.5 1232.2 946.6 1235.2 946.8 1238.2 946.9 1241.2 947.0 1244.2 947.2 1247.2 947.3 1250.2 947.4 1253.2 947.5 1256.2 947.6 1259.2 947.8 1262.2 947.9 1265.2 948.0 1268.2 948.1 1271.2 948.2 1274.2 948.3 1277.2 948.5 1280.2 948.6 1283.2 948.7 1286.2 948.8 1289.2 948.9 1292.2 949.0 1295.2 949.1 1298.2 949.2 1301.2 949.3 1304.2 949.4 1307.2 949.5 1310.2 949.6 1313.1 949.7 1316.1 949.8 1319.1 949.9 1322.1 949.9 1325.1 950.0 1328.1 950.1 1331.1 950.2 1334.1 950.3 1337.1 950.4 1340.1 950.4 1343.1 950.5 1346.1 950.6 1349.1 950.7 1352.1 950.7 1355.1 950.8 1358.1 950.9 1361.1 951.0 1364.1 951.0 1367.1 951.1 1370.1 951.2 1373.1 951.2 1376.1 951.3 1379.1 951.3 1382.1 951.4 1385.1 951.5 1388.1 951.5 1391.1 951.6 1394.1 951.6 1397.1 951.7 1400.1 951.7 1403.1 951.8 1406.1 951.8 1409.1 951.9 1412.1 951.9 1415.1 952.0 1418.1 952.0 1421.1 952.0 1424.1 952.1 1427.1 952.1 1430.1 952.2 1433.1 952.2 1436.1 952.2 1439.1 952.2 1442.1 952.3 1445.1 952.3 1448.1 952.3 1451.0 952.4 1454.0 952.4 1457.0 952.4 1460.0 952.4 1463.0 952.4 1466.0 952.5 1469.0 952.5 1472.0 952.5 1475.0 952.5 1478.0 952.5 1481.0 952.5 1484.0 952.5 1487.0 952.5 1490.0 952.5" stroke="#bf00bf" stroke-width="5.6" fill="none" stroke-linejoin="round"/>
<path d="M275.0 281.0 277.8 279.9 280.5 278.9 283.3 277.8 286.1 276.7 288.9 275.7 291.7 274.6 294.5 273.6 297.3 272.5 300.1 271.4 302.8 270.4 305.6 269.3 308.4 268.3 311.2 267.2 314.0 266.2 316.8 265.1 319.6 264.1 322.4 263.0 325.2 262.0 328.0 260.9 330.8 259.9 333.6 258.8 336.5 257.8 339.3 256.8 342.1 255.7 344.9 254.7 347.7 253.7 350.5 252.7 353.3 251.6 356.1 250.6 359.0 249.6 361.8 248.6 364.6 247.6 367.4 246.6 370.3 245.5 373.1 244.5 375.9 243.5 378.7 242.5 381.6 241.5 384.4 240.6 387.2 239.6 390.1 238.6 392.9 237.6 395.7 236.6 398.6 235.7 401.4 234.7 404.3 233.7 407.1 232.8 409.9 231.8 412.8 230.8 415.6 229.9 418.5 229.0 421.3 228.0 424.2 227.1 427.0 226.2 429.9 225.2 432.8 224.3 435.6 223.4 438.5 222.5 441.3 221.6 444.2 220.7 447.1 219.8 449.9 218.9 452.8 218.0 455.7 217.1 458.6 216.2 461.4 215.4 464.3 214.5 467.2 213.7 470.1 212.8 472.9 212.0 475.8 211.1 478.7 210.3 481.6 209.5 484.5 208.6 487.4 207.8 490.3 207.0 493.1 206.2 496.0 205.4 498.9 204.6 501.8 203.8 504.7 203.1 507.6 202.3 510.5 201.5 513.4 200.8 516.4 200.0 519.3 199.3 522.2 198.6 525.1 197.8 528.0 197.1 530.9 196.4 533.8 195.7 536.7 195.0 539.7 194.3 542.6 193.7 545.5 193.0 548.4 192.3 551.4 191.7 554.3 191.0 557.2 190.4 560.2 189.7 563.1 189.1 566.0 188.5 569.0 187.9 571.9 187.3 574.9 186.7 577.8 186.1 580.7 185.6 583.7 185.0 586.6 184.5 589.6 183.9 592.5 183.4 595.5 182.9 598.4 182.4 601.4 181.9 604.4 181.4 607.3 180.9 610.3 180.4 613.2 179.9 616.2 179.5 619.2 179.0 622.1 178.6 625.1 178.2 628.0 177.8 631.0 177.3 634.0 177.0 636.9 176.6 639.9 176.2 642.9 175.8 645.9 175.5 648.8 175.1 651.8 174.8 654.8 174.5 657.7 174.2 660.7 173.9 663.7 173.6 666.7 173.3 669.6 173.1 672.6 172.8 675.6 172.6 678.6 172.3 681.6 172.1 684.5 171.9 687.5 171.7 690.5 171.5 693.5 171.4 696.5 171.2 699.4 171.1 702.4 170.9 705.4 170.8 708.4 170.7 711.4 170.6 714.3 170.5 717.3 170.5 720.3 170.4 723.3 170.4 726.3 170.3 729.3 170.3 732.2 170.3 735.2 170.3 738.2 170.3 741.2 170.4 744.2 170.4 747.2 170.5 750.1 170.6 753.1 170.6 756.1 170.7 759.1 170.9 762.1 171.0 765.1 171.1 768.0 171.3 771.0 171.5 774.0 171.7 777.0 171.9 780.0 172.1 782.9 172.3 785.9 172.5 788.9 172.8 791.9 173.1 794.9 173.4 797.8 173.7 800.8 174.0 803.8 174.3 806.8 174.7 809.7 175.0 812.7 175.4 815.7 175.8 818.7 176.2 821.6 176.6 824.6 177.1 827.6 177.5 830.5 178.0 833.5 178.5 836.5 179.0 839.4 179.5 842.4 180.1 845.4 180.6 848.3 181.2 851.3 181.8 854.2 182.4 857.2 183.1 860.1 183.8 863.0 184.5 866.0 185.2 868.9 185.9 871.8 186.7 874.7 187.5 877.6 188.3 880.5 189.2 883.3 190.1 886.2 191.0 889.0 191.9 891.9 192.9 894.7 193.9 897.5 195.0 900.3 196.0 903.1 197.1 905.9 198.3 908.6 199.5 911.4 200.7 914.1 202.0 916.8 203.3 919.5 204.6 922.2 206.0 924.9 207.5 927.5 208.9 930.1 210.4 932.7 212.0 935.3 213.6 937.9 215.3 940.4 216.9 942.9 218.7 945.4 220.4 947.9 222.3 950.3 224.1 952.7 226.0 955.0 227.9 957.3 229.9 959.6 231.9 961.9 234.0 964.1 236.1 966.2 238.2 968.3 240.3 970.4 242.5 972.4 244.7 974.4 247.0 976.3 249.3 978.2 251.6 980.0 254.0 981.7 256.3 983.4 258.7 985.1 261.2 986.7 263.7 988.2 266.2 989.7 268.7 991.1 271.2 992.5 273.8 993.8 276.4 995.0 279.1 996.2 281.7 997.4 284.4 998.5 287.1 999.6 289.8 1000.6 292.6 1001.5 295.3 1002.4 298.1 1003.3 300.9 1004.1 303.7 1004.9 306.6 1005.6 309.4 1006.3 312.3 1006.9 315.2 1007.5 318.1 1008.0 321.0 1008.5 323.9 1009.0 326.9 1009.4 329.8 1009.8 332.8 1010.1 335.8 1010.5 338.7 1010.7 341.7 1010.9 344.7 1011.1 347.7 1011.3 350.7 1011.4 353.8 1011.5 356.8 1011.5 359.8 1011.5 362.8 1011.5 365.9 1011.5 368.9 1011.4 372.0 1011.2 375.0 1011.1 378.0 1010.9 381.1 1010.7 384.1 1010.5 387.1 1010.2 390.2 1009.9 393.2 1009.6 396.2 1009.3 399.2 1008.9 402.2 1008.5 405.2 1008.1 408.2 1007.6 411.2 1007.2 414.2 1006.7 417.2 1006.1 420.2 1005.6 423.1 1005.0 426.1 1004.5 429.0 1003.8 432.0 1003.2 434.9 1002.6 437.8 1001.9 440.8 1001.2 443.7 1000.5 446.6 999.7 449.5 999.0 452.4 998.2 455.3 997.4 458.2 996.6 461.1 995.7 463.9 994.9 466.8 994.0 469.6 993.1 472.5 992.2 475.3 991.2 478.2 990.3 481.0 989.3 483.8 988.3 486.7 987.3 489.5 986.3 492.3 985.2 495.1 984.2 497.9 983.1 500.7 982.0 503.5 980.9 506.2 979.8 509.0 978.6 511.8 977.5 514.5 976.3 517.3 975.1 520.0 973.9 522.8 972.7 525.5 971.4 528.2 970.2 531.0 968.9 533.7 967.6 536.4 966.3 539.1 965.0 541.8 963.7 544.5 962.4 547.2 961.0 549.9 959.7 552.6 958.3 555.2 956.9 557.9 955.5 560.6 954.1 563.2 952.7 565.9 951.3 568.5 949.8 571.2 948.4 573.8 946.9 576.4 945.4 579.0 944.0 581.7 942.5 584.3 941.0 586.9 939.4 589.5 937.9 592.1 936.4 594.7 934.9 597.3 933.3 599.8 931.8 602.4 930.2 605.0 928.6 607.6 927.1 610.1 925.5 612.7 923.9 615.2 922.3 617.8 920.7 620.3 919.1 622.8 917.5 625.4 915.8 627.9 914.2 630.4 912.6 632.9 910.9 635.5 909.3 638.0 907.6 640.5 906.0 643.0 904.3 645.5 902.7 647.9 901.0 650.4 899.3 652.9 897.7 655.4 896.0 657.8 894.3 660.3 892.6 662.8 890.9 665.2 889.3 667.7 887.6 670.1 885.9 672.6 884.2 675.0 882.5 677.4 880.8 679.9 879.1 682.3 877.4 684.7 875.7 687.1 874.0 689.5 872.3 692.0 870.6 694.4 868.9 696.8 867.2 699.2 865.6 701.6 863.9 704.0 862.2 706.4 860.5 708.8 858.8 711.2 857.1 713.6 855.4 716.0 853.7 718.5 851.9 720.9 850.2 723.3 848.5 725.8 846.8 728.2 845.1 730.7 843.4 733.1 841.7 735.6 840.0 738.1 838.3 740.6 836.6 743.1 834.8 745.6 833.1 748.1 831.4 750.7 829.7 753.2 828.0 755.8 826.2 758.4 824.5 761.0 822.8 763.6 821.1 766.2 819.3 768.9 817.6 771.5 815.9 774.2 814.1 776.9 812.4 779.7 810.7 782.4 808.9 785.2 807.2 787.9 805.6 790.7 803.9 793.5 802.3 796.4 800.8 799.2 799.3 802.0 797.9 804.9 796.6 807.7 795.3 810.6 794.1 813.4 793.1 816.3 792.1 819.1 791.2 822.0 790.5 824.8 789.9 827.6 789.4 830.5 789.1 833.3 788.8 836.0 788.8 838.8 788.8 841.5 789.0 844.2 789.3 846.9 789.8 849.5 790.4 852.1 791.2 854.6 792.1 857.0 793.1 859.4 794.3 861.7 795.7 864.0 797.2 866.1 798.8 868.2 800.6 870.3 802.5 872.3 804.5 874.2 806.6 876.0 808.8 877.8 811.1 879.6 813.5 881.3 815.9 882.9 818.4 884.5 821.0 886.0 823.6 887.5 826.3 889.0 828.9 890.4 831.7 891.8 834.4 893.1 837.1 894.4 839.9 895.7 842.7 896.9 845.4 898.1 848.2 899.3 851.0 900.4 853.8 901.5 856.6 902.6 859.5 903.6 862.3 904.6 865.1 905.6 868.0 906.6 870.8 907.5 873.7 908.4 876.6 909.3 879.4 910.1 882.3 911.0 885.2 911.8 888.1 912.5 891.0 913.3 894.0 914.0 896.9 914.7 899.8 915.4 902.7 916.0 905.7 916.7 908.6 917.3 911.6 917.9 914.5 918.4 917.5 919.0 920.5 919.5 923.5 920.0 926.4 920.5 929.4 921.0 932.4 921.5 935.4 921.9 938.4 922.4 941.4 922.8 944.4 923.2 947.4 923.6 950.4 923.9 953.4 924.3 956.4 924.6 959.5 925.0 962.5 925.3 965.5 925.6 968.5 925.9 971.6 926.2 974.6 926.5 977.6 926.7 980.6 927.0 983.7 927.3 986.7 927.5 989.8 927.8 992.8 928.0 995.8 928.2 998.9 928.4 1001.9 928.7 1004.9 928.9 1008.0 929.1 1011.0 929.3 1014.0 929.5 1017.1 929.7 1020.1 929.9 1023.1 930.1 1026.2 930.3 1029.2 930.5 1032.2 930.7 1035.2 931.0 1038.3 931.2 1041.3 931.4 1044.3 931.6 1047.3 931.8 1050.3 932.0 1053.3 932.2 1056.4 932.4 1059.4 932.6 1062.4 932.8 1065.4 933.0 1068.4 933.2 1071.4 933.4 1074.4 933.6 1077.4 933.8 1080.4 934.0 1083.4 934.2 1086.4 934.4 1089.4 934.6 1092.4 934.8 1095.4 935.0 1098.4 935.2 1101.4 935.4 1104.4 935.6 1107.4 935.8 1110.4 936.0 1113.4 936.2 1116.4 936.4 1119.4 936.6 1122.4 936.8 1125.4 936.9 1128.3 937.1 1131.3 937.3 1134.3 937.5 1137.3 937.7 1140.3 937.9 1143.3 938.1 1146.3 938.3 1149.2 938.5 1152.2 938.7 1155.2 938.8 1158.2 939.0 1161.2 939.2 1164.1 939.4 1167.1 939.6 1170.1 939.8 1173.1 939.9 1176.0 940.1 1179.0 940.3 1182.0 940.5 1185.0 940.7 1188.0 940.8 1190.9 941.0 1193.9 941.2 1196.9 941.4 1199.8 941.5 1202.8 941.7 1205.8 941.9 1208.8 942.0 1211.7 942.2 1214.7 942.4 1217.7 942.5 1220.7 942.7 1223.6 942.9 1226.6 943.0 1229.6 943.2 1232.5 943.3 1235.5 943.5 1238.5 943.7 1241.5 943.8 1244.4 944.0 1247.4 944.1 1250.4 944.3 1253.4 944.4 1256.3 944.6 1259.3 944.7 1262.3 944.9 1265.2 945.0 1268.2 945.2 1271.2 945.3 1274.2 945.4 1277.1 945.6 1280.1 945.7 1283.1 945.9 1286.1 946.0 1289.0 946.1 1292.0 946.2 1295.0 946.4 1298.0 946.5 1300.9 946.6 1303.9 946.8 1306.9 946.9 1309.9 947.0 1312.8 947.1 1315.8 947.2 1318.8 947.4 1321.8 947.5 1324.8 947.6 1327.7 947.7 1330.7 947.8 1333.7 947.9 1336.7 948.0 1339.7 948.1 1342.7 948.2 1345.6 948.3 1348.6 948.4 1351.6 948.5 1354.6 948.6 1357.6 948.7 1360.6 948.8 1363.6 948.9 1366.6 949.0 1369.6 949.0 1372.6 949.1 1375.5 949.2 1378.5 949.3 1381.5 949.3 1384.5 949.4 1387.5 949.5 1390.5 949.6 1393.5 949.6 1396.5 949.7 1399.5 949.8 1402.5 949.8 1405.6 949.9 1408.6 949.9 1411.6 950.0 1414.6 950.0 1417.6 950.1 1420.6 950.1 1423.6 950.2 1426.6 950.2 1429.6 950.2 1432.7 950.3 1435.7 950.3 1438.7 950.4 1441.7 950.4 1444.7 950.4 1447.8 950.4 1450.8 950.5 1453.8 950.5 1456.9 950.5 1459.9 950.5 1462.9 950.5 1466.0 950.5 1469.0 950.5 1472.0 950.5 1475.1 950.5 1478.1 950.5 1481.1 950.5 1484.2 950.5 1487.2 950.5 1490.3 950.5" stroke="#ffa500" stroke-width="5.6" fill="none" stroke-linejoin="round"/>
<path d="M166.4 312.6 169.2 311.3 172.0 310.0 174.8 308.8 177.6 307.5 180.4 306.3 183.2 305.1 186.0 303.9 188.8 302.8 191.7 301.6 194.5 300.4 197.3 299.3 200.1 298.2 202.9 297.0 205.7 295.9 208.5 294.9 211.3 293.8 214.1 292.7 217.0 291.7 219.8 290.6 222.6 289.6 225.4 288.5 228.2 287.5 231.1 286.5 233.9 285.5 236.7 284.6 239.5 283.6 242.4 282.6 245.2 281.7 248.0 280.7 250.8 279.8 253.7 278.9 256.5 277.9 259.3 277.0 262.2 276.1 265.0 275.2 267.9 274.3 270.7 273.5 273.5 272.6 276.4 271.7 279.2 270.9 282.1 270.0 284.9 269.2 287.8 268.3 290.6 267.5 293.5 266.7 296.3 265.8 299.2 265.0 302.0 264.2 304.9 263.4 307.7 262.6 310.6 261.8 313.5 261.0 316.3 260.2 319.2 259.5 322.1 258.7 324.9 257.9 327.8 257.1 330.7 256.4 333.6 255.6 336.4 254.9 339.3 254.1 342.2 253.3 345.1 252.6 348.0 251.8 350.8 251.1 353.7 250.3 356.6 249.6 359.5 248.8 362.4 248.1 365.3 247.4 368.2 246.6 371.1 245.9 374.0 245.1 376.9 244.4 379.8 243.7 382.7 242.9 385.6 242.2 388.5 241.4 391.4 240.7 394.4 240.0 397.3 239.2 400.2 238.5 403.1 237.8 406.0 237.0 409.0 236.3 411.9 235.6 414.8 234.8 417.8 234.1 420.7 233.4 423.6 232.7 426.6 232.0 429.5 231.3 432.4 230.6 435.4 229.9 438.3 229.2 441.3 228.5 444.2 227.8 447.1 227.1 450.1 226.4 453.0 225.8 456.0 225.1 458.9 224.5 461.9 223.8 464.9 223.2 467.8 222.5 470.8 221.9 473.7 221.3 476.7 220.7 479.6 220.1 482.6 219.5 485.6 218.9 488.5 218.3 491.5 217.8 494.5 217.2 497.4 216.7 500.4 216.1 503.4 215.6 506.3 215.1 509.3 214.6 512.3 214.1 515.2 213.6 518.2 213.1 521.2 212.7 524.2 212.2 527.1 211.8 530.1 211.4 533.1 211.0 536.1 210.6 539.0 210.2 542.0 209.8 545.0 209.5 548.0 209.2 550.9 208.8 553.9 208.5 556.9 208.2 559.9 207.9 562.9 207.7 565.8 207.4 568.8 207.2 571.8 207.0 574.8 206.8 577.8 206.6 580.7 206.4 583.7 206.3 586.7 206.2 589.7 206.1 592.7 206.0 595.7 205.9 598.6 205.8 601.6 205.8 604.6 205.8 607.6 205.8 610.6 205.8 613.5 205.8 616.5 205.9 619.5 206.0 622.5 206.1 625.5 206.2 628.4 206.4 631.4 206.5 634.4 206.7 637.4 206.9 640.3 207.1 643.3 207.4 646.3 207.7 649.3 208.0 652.3 208.3 655.2 208.6 658.2 209.0 661.2 209.4 664.1 209.8 667.1 210.3 670.1 210.7 673.1 211.2 676.0 211.8 679.0 212.3 682.0 212.9 684.9 213.5 687.9 214.1 690.9 214.7 693.8 215.4 696.8 216.1 699.7 216.9 702.7 217.6 705.6 218.4 708.6 219.2 711.5 220.1 714.4 220.9 717.3 221.8 720.2 222.8 723.1 223.7 726.0 224.7 728.8 225.7 731.7 226.8 734.5 227.9 737.3 229.0 740.1 230.1 742.9 231.3 745.7 232.5 748.4 233.7 751.2 235.0 753.9 236.3 756.5 237.6 759.2 238.9 761.8 240.3 764.4 241.8 767.0 243.2 769.6 244.7 772.1 246.2 774.6 247.8 777.1 249.4 779.5 251.0 781.9 252.7 784.3 254.4 786.7 256.1 789.0 257.9 791.3 259.7 793.5 261.5 795.7 263.4 797.9 265.3 800.0 267.2 802.1 269.2 804.2 271.2 806.2 273.3 808.1 275.4 810.1 277.5 812.0 279.7 813.8 281.9 815.6 284.1 817.3 286.4 819.0 288.7 820.7 291.1 822.3 293.5 823.9 295.9 825.4 298.4 826.8 300.9 828.2 303.5 829.6 306.1 830.9 308.7 832.1 311.4 833.3 314.1 834.4 316.8 835.5 319.6 836.5 322.4 837.5 325.3 838.5 328.2 839.3 331.1 840.2 334.0 840.9 336.9 841.7 339.9 842.4 342.9 843.0 345.9 843.6 349.0 844.1 352.0 844.6 355.1 845.0 358.2 845.4 361.3 845.7 364.4 846.0 367.5 846.3 370.7 846.5 373.8 846.7 376.9 846.8 380.1 846.8 383.2 846.9 386.4 846.9 389.5 846.8 392.7 846.7 395.8 846.5 398.9 846.3 402.1 846.1 405.2 845.8 408.3 845.5 411.4 845.2 414.5 844.8 417.5 844.3 420.6 843.8 423.6 843.3 426.6 842.8 429.6 842.2 432.6 841.6 435.6 840.9 438.5 840.2 441.5 839.4 444.4 838.7 447.3 837.9 450.2 837.0 453.0 836.2 455.9 835.3 458.7 834.3 461.5 833.4 464.4 832.4 467.1 831.4 469.9 830.3 472.7 829.3 475.5 828.2 478.2 827.0 481.0 825.9 483.7 824.7 486.4 823.5 489.1 822.3 491.8 821.1 494.5 819.8 497.2 818.6 499.8 817.3 502.5 816.0 505.1 814.6 507.8 813.3 510.4 811.9 513.0 810.6 515.6 809.2 518.3 807.8 520.9 806.3 523.5 804.9 526.1 803.5 528.6 802.0 531.2 800.6 533.8 799.1 536.4 797.6 538.9 796.1 541.5 794.6 544.1 793.1 546.6 791.6 549.2 790.1 551.7 788.6 554.3 787.0 556.8 785.5 559.3 783.9 561.9 782.3 564.4 780.8 566.9 779.2 569.4 777.6 572.0 776.0 574.5 774.4 577.0 772.8 579.5 771.1 582.0 769.5 584.4 767.9 586.9 766.2 589.4 764.6 591.9 762.9 594.4 761.2 596.8 759.5 599.3 757.8 601.7 756.1 604.2 754.4 606.6 752.7 609.1 751.0 611.5 749.2 613.9 747.5 616.4 745.8 618.8 744.0 621.2 742.2 623.6 740.5 626.0 738.7 628.4 736.9 630.8 735.1 633.2 733.3 635.6 731.5 638.0 729.7 640.4 727.8 642.8 726.0 645.1 724.2 647.5 722.3 649.9 720.5 652.2 718.6 654.6 716.7 656.9 714.9 659.3 713.0 661.6 711.1 663.9 709.2 666.3 707.3 668.6 705.4 670.9 703.5 673.2 701.5 675.5 699.6 677.8 697.7 680.1 695.7 682.4 693.8 684.7 691.8 687.0 689.8 689.3 687.9 691.5 685.9 693.8 683.9 696.1 681.9 698.3 679.9 700.6 677.9 702.8 675.9 705.0 673.9 707.3 671.8 709.5 669.8 711.7 667.8 714.0 665.7 716.2 663.7 718.4 661.6 720.6 659.6 722.8 657.5 725.0 655.4 727.2 653.3 729.4 651.2 731.5 649.2 733.7 647.1 735.9 644.9 738.0 642.8 740.2 640.7 742.3 638.6 744.5 636.5 746.6 634.3 748.8 632.2 750.9 630.1 753.0 627.9 755.1 625.8 757.3 623.6 759.4 621.4 761.5 619.3 763.6 617.1 765.7 614.9 767.8 612.7 769.8 610.5 771.9 608.3 774.0 606.1 776.0 603.9 778.1 601.7 780.2 599.5 782.2 597.3 784.3 595.1 786.3 592.9 788.4 590.7 790.5 588.5 792.5 586.3 794.6 584.2 796.7 582.0 798.8 579.9 800.9 577.8 803.0 575.6 805.1 573.6 807.3 571.5 809.4 569.4 811.6 567.4 813.8 565.4 816.0 563.4 818.2 561.5 820.4 559.6 822.7 557.7 825.0 555.8 827.3 554.0 829.6 552.2 832.0 550.4 834.4 548.7 836.8 547.0 839.2 545.4 841.7 543.8 844.2 542.2 846.8 540.7 849.4 539.3 852.0 537.9 854.6 536.5 857.3 535.3 860.0 534.2 862.8 533.2 865.5 532.3 868.3 531.7 871.0 531.2 873.8 530.9 876.5 530.9 879.2 531.1 881.9 531.5 884.6 532.1 887.2 533.0 889.8 534.0 892.3 535.1 894.7 536.5 896.9 538.0 899.1 539.7 901.3 541.5 903.3 543.5 905.2 545.6 907.1 547.8 908.8 550.2 910.5 552.6 912.1 555.2 913.7 557.8 915.1 560.6 916.5 563.4 917.8 566.4 919.1 569.3 920.3 572.4 921.4 575.5 922.5 578.6 923.6 581.8 924.5 585.1 925.5 588.3 926.3 591.6 927.2 594.9 928.0 598.1 928.7 601.4 929.5 604.7 930.1 607.9 930.8 611.2 931.4 614.4 932.0 617.6 932.6 620.7 933.1 623.8 933.7 626.9 934.2 630.0 934.7 633.0 935.1 636.0 935.6 639.0 936.0 642.0 936.4 645.0 936.8 647.9 937.2 650.8 937.5 653.8 937.9 656.7 938.2 659.6 938.5 662.5 938.8 665.4 939.1 668.2 939.4 671.1 939.7 674.0 940.0 676.9 940.3 679.8 940.6 682.7 940.9 685.5 941.1 688.4 941.4 691.3 941.7 694.2 942.0 697.1 942.2 700.0 942.5 702.9 942.7 705.8 943.0 708.8 943.2 711.7 943.5 714.6 943.7 717.5 944.0 720.4 944.2 723.3 944.5 726.3 944.7 729.2 945.0 732.1 945.2 735.1 945.4 738.0 945.7 740.9 945.9 743.9 946.1 746.8 946.3 749.8 946.6 752.7 946.8 755.7 947.0 758.6 947.2 761.6 947.4 764.5 947.6 767.5 947.8 770.4 948.1 773.4 948.3 776.4 948.5 779.3 948.7 782.3 948.9 785.2 949.1 788.2 949.3 791.2 949.4 794.2 949.6 797.1 949.8 800.1 950.0 803.1 950.2 806.1 950.4 809.1 950.6 812.0 950.8 815.0 950.9 818.0 951.1 821.0 951.3 824.0 951.5 827.0 951.6 830.0 951.8 833.0 952.0 836.0 952.1 839.0 952.3 841.9 952.5 844.9 952.6 847.9 952.8 850.9 952.9 853.9 953.1 856.9 953.3 860.0 953.4 863.0 953.6 866.0 953.7 869.0 953.9 872.0 954.0 875.0 954.2 878.0 954.3 881.0 954.5 884.0 954.6 887.0 954.8 890.0 954.9 893.0 955.0 896.1 955.2 899.1 955.3 902.1 955.4 905.1 955.6 908.1 955.7 911.1 955.9 914.2 956.0 917.2 956.1 920.2 956.2 923.2 956.4 926.2 956.5 929.2 956.6 932.3 956.8 935.3 956.9 938.3 957.0 941.3 957.1 944.3 957.3 947.4 957.4 950.4 957.5 953.4 957.6 956.4 957.7 959.4 957.9 962.5 958.0 965.5 958.1 968.5 958.2 971.5 958.3 974.5 958.4 977.5 958.5 980.6 958.7 983.6 958.8 986.6 958.9 989.6 959.0 992.6 959.1 995.7 959.2 998.7 959.3 1001.7 959.4 1004.7 959.5 1007.7 959.7 1010.7 959.8 1013.7 959.9 1016.8 960.0 1019.8 960.1 1022.8 960.2 1025.8 960.3 1028.8 960.4 1031.8 960.5 1034.8 960.6 1037.8 960.7 1040.8 960.8 1043.8 960.9 1046.9 961.0 1049.9 961.1 1052.9 961.2 1055.9 961.3 1058.9 961.4 1061.9 961.5 1064.9 961.6 1067.9 961.7 1070.9 961.8 1073.9 961.9 1076.9 962.0 1079.9 962.1 1082.9 962.2 1085.9 962.3 1088.9 962.4 1091.9 962.5 1094.9 962.6 1097.9 962.7 1100.9 962.8 1103.9 962.9 1106.9 963.0 1109.9 963.1 1112.8 963.2 1115.8 963.3 1118.8 963.4 1121.8 963.5 1124.8 963.6 1127.8 963.7 1130.8 963.8 1133.8 963.9 1136.8 963.9 1139.8 964.0 1142.8 964.1 1145.8 964.2 1148.7 964.3 1151.7 964.4 1154.7 964.5 1157.7 964.6 1160.7 964.7 1163.7 964.7 1166.7 964.8 1169.7 964.9 1172.7 965.0 1175.6 965.1 1178.6 965.2 1181.6 965.2 1184.6 965.3 1187.6 965.4 1190.6 965.5 1193.6 965.6 1196.6 965.6 1199.5 965.7 1202.5 965.8 1205.5 965.9 1208.5 966.0 1211.5 966.0 1214.5 966.1 1217.5 966.2 1220.4 966.3 1223.4 966.3 1226.4 966.4 1229.4 966.5 1232.4 966.6 1235.4 966.6 1238.3 966.7 1241.3 966.8 1244.3 966.8 1247.3 966.9 1250.3 967.0 1253.3 967.1 1256.3 967.1 1259.2 967.2 1262.2 967.3 1265.2 967.3 1268.2 967.4 1271.2 967.4 1274.2 967.5 1277.2 967.6 1280.1 967.6 1283.1 967.7 1286.1 967.8 1289.1 967.8 1292.1 967.9 1295.1 967.9 1298.1 968.0 1301.1 968.1 1304.0 968.1 1307.0 968.2 1310.0 968.2 1313.0 968.3 1316.0 968.3 1319.0 968.4 1322.0 968.4 1325.0 968.5 1328.0 968.5 1330.9 968.6 1333.9 968.6 1336.9 968.7 1339.9 968.7 1342.9 968.8 1345.9 968.8 1348.9 968.9 1351.9 968.9 1354.9 969.0 1357.9 969.0 1360.9 969.1 1363.9 969.1 1366.9 969.1 1369.9 969.2 1372.8 969.2 1375.8 969.3 1378.8 969.3 1381.8 969.3 1384.8 969.4 1387.8 969.4 1390.8 969.4 1393.8 969.5 1396.8 969.5 1399.8 969.5 1402.8 969.6 1405.8 969.6 1408.8 969.6 1411.8 969.7 1414.8 969.7 1417.8 969.7 1420.8 969.7 1423.9 969.8 1426.9 969.8 1429.9 969.8 1432.9 969.8 1435.9 969.9 1438.9 969.9 1441.9 969.9 1444.9 969.9 1447.9 969.9 1450.9 970.0 1453.9 970.0 1457.0 970.0 1460.0 970.0 1463.0 970.0 1466.0 970.0 1469.0 970.0 1472.0 970.1 1475.0 970.1 1478.1 970.1 1481.1 970.1 1484.1 970.1 1487.1 970.1 1490.1 970.1" stroke="#008080" stroke-width="5.6" fill="none" stroke-linejoin="round"/>
<path d="M140.7 384.0 143.6 383.6 146.4 383.2 149.3 382.8 152.2 382.5 155.0 382.1 157.9 381.8 160.8 381.4 163.7 381.1 166.6 380.8 169.5 380.4 172.4 380.1 175.3 379.8 178.2 379.5 181.1 379.1 184.0 378.8 187.0 378.5 189.9 378.2 192.8 378.0 195.8 377.7 198.7 377.4 201.7 377.1 204.6 376.9 207.6 376.6 210.5 376.4 213.5 376.1 216.5 375.9 219.4 375.7 222.4 375.4 225.4 375.2 228.4 375.0 231.4 374.8 234.3 374.6 237.3 374.4 240.3 374.2 243.3 374.1 246.3 373.9 249.3 373.7 252.3 373.6 255.3 373.4 258.3 373.3 261.3 373.2 264.3 373.1 267.4 373.0 270.4 372.8 273.4 372.7 276.4 372.7 279.4 372.6 282.5 372.5 285.5 372.4 288.5 372.4 291.5 372.3 294.6 372.3 297.6 372.3 300.6 372.3 303.7 372.2 306.7 372.2 309.7 372.3 312.8 372.3 315.8 372.3 318.8 372.3 321.9 372.4 324.9 372.4 327.9 372.5 331.0 372.6 334.0 372.6 337.0 372.7 340.1 372.8 343.1 373.0 346.2 373.1 349.2 373.2 352.2 373.3 355.3 373.5 358.3 373.7 361.3 373.8 364.4 374.0 367.4 374.2 370.4 374.4 373.4 374.6 376.5 374.9 379.5 375.1 382.5 375.4 385.6 375.6 388.6 375.9 391.6 376.2 394.6 376.5 397.6 376.8 400.6 377.1 403.7 377.4 406.7 377.8 409.7 378.1 412.7 378.5 415.7 378.8 418.7 379.2 421.7 379.6 424.7 380.0 427.7 380.5 430.7 380.9 433.7 381.4 436.7 381.8 439.6 382.3 442.6 382.8 445.6 383.3 448.6 383.8 451.5 384.3 454.5 384.9 457.5 385.4 460.4 386.0 463.4 386.6 466.3 387.1 469.3 387.7 472.2 388.4 475.2 389.0 478.1 389.6 481.0 390.3 484.0 391.0 486.9 391.7 489.8 392.4 492.7 393.1 495.6 393.8 498.5 394.5 501.4 395.3 504.3 396.1 507.2 396.9 510.1 397.7 513.0 398.5 515.8 399.3 518.7 400.2 521.6 401.0 524.4 401.9 527.3 402.8 530.1 403.7 532.9 404.6 535.8 405.5 538.6 406.5 541.4 407.5 544.2 408.4 547.0 409.4 549.8 410.4 552.6 411.5 555.4 412.5 558.2 413.6 561.0 414.7 563.7 415.7 566.5 416.9 569.3 418.0 572.0 419.1 574.7 420.3 577.5 421.4 580.2 422.6 582.9 423.8 585.6 425.1 588.3 426.3 591.0 427.6 593.7 428.8 596.4 430.1 599.1 431.4 601.7 432.8 604.4 434.1 607.0 435.5 609.6 436.8 612.3 438.2 614.9 439.7 617.5 441.1 620.1 442.5 622.7 444.0 625.3 445.5 627.9 447.0 630.4 448.5 633.0 450.0 635.5 451.6 638.1 453.2 640.6 454.7 643.1 456.3 645.6 458.0 648.1 459.6 650.6 461.3 653.0 462.9 655.5 464.6 658.0 466.3 660.4 468.0 662.8 469.8 665.2 471.5 667.6 473.3 670.0 475.1 672.4 476.9 674.8 478.7 677.1 480.5 679.5 482.4 681.8 484.3 684.1 486.1 686.4 488.0 688.7 490.0 691.0 491.9 693.3 493.8 695.5 495.8 697.8 497.8 700.0 499.8 702.2 501.8 704.4 503.8 706.6 505.8 708.7 507.9 710.9 510.0 713.0 512.0 715.2 514.1 717.3 516.3 719.4 518.4 721.4 520.5 723.5 522.7 725.5 524.9 727.6 527.1 729.6 529.3 731.6 531.5 733.6 533.7 735.5 536.0 737.5 538.2 739.4 540.5 741.3 542.8 743.2 545.1 745.1 547.4 747.0 549.7 748.8 552.1 750.7 554.4 752.5 556.8 754.3 559.2 756.0 561.6 757.8 564.0 759.5 566.5 761.3 568.9 763.0 571.4 764.6 573.8 766.3 576.3 767.9 578.8 769.6 581.3 771.2 583.8 772.8 586.4 774.3 588.9 775.9 591.5 777.4 594.1 778.9 596.6 780.4 599.2 781.9 601.9 783.3 604.5 784.7 607.1 786.1 609.8 787.5 612.4 788.9 615.1 790.2 617.8 791.5 620.5 792.8 623.2 794.1 625.9 795.4 628.7 796.6 631.4 797.8 634.2 799.0 637.0 800.2 639.8 801.3 642.5 802.4 645.4 803.5 648.2 804.6 651.0 805.6 653.9 806.7 656.7 807.7 659.6 808.6 662.5 809.6 665.3 810.5 668.2 811.4 671.2 812.3 674.1 813.2 677.0 814.0 680.0 814.8 682.9 815.6 685.9 816.3 688.9 817.1 691.8 817.8 694.8 818.5 697.8 819.2 700.8 819.8 703.9 820.5 706.9 821.1 709.9 821.8 712.9 822.4 715.9 823.0 719.0 823.6 722.0 824.2 725.0 824.9 728.0 825.5 731.1 826.1 734.1 826.7 737.1 827.3 740.1 827.9 743.1 828.5 746.1 829.2 749.1 829.8 752.1 830.5 755.0 831.2 758.0 831.9 760.9 832.6 763.9 833.3 766.8 834.0 769.7 834.8 772.6 835.6 775.5 836.4 778.3 837.3 781.2 838.2 784.0 839.1 786.8 840.0 789.6 841.0 792.4 842.0 795.1 843.0 797.8 844.1 800.5 845.2 803.2 846.4 805.8 847.6 808.5 848.9 811.0 850.1 813.6 851.5 816.1 852.9 818.7 854.3 821.1 855.8 823.6 857.4 826.0 859.0 828.4 860.7 830.7 862.4 833.0 864.1 835.3 866.0 837.5 867.8 839.8 869.7 841.9 871.7 844.1 873.7 846.2 875.7 848.3 877.8 850.3 879.9 852.4 882.1 854.3 884.3 856.3 886.5 858.2 888.8 860.1 891.1 862.0 893.4 863.8 895.8 865.6 898.2 867.4 900.6 869.1 903.1 870.8 905.5 872.5 908.1 874.1 910.6 875.7 913.1 877.3 915.7 878.8 918.3 880.4 920.9 881.8 923.6 883.3 926.2 884.7 928.9 886.1 931.6 887.4 934.3 888.8 937.0 890.1 939.7 891.3 942.5 892.6 945.2 893.8 948.0 894.9 950.7 896.1 953.5 897.2 956.3 898.3 959.1 899.3 961.9 900.4 964.7 901.4 967.6 902.3 970.4 903.3 973.2 904.2 976.1 905.1 978.9 906.0 981.8 906.8 984.7 907.7 987.6 908.5 990.5 909.2 993.4 910.0 996.3 910.7 999.2 911.5 1002.1 912.2 1005.0 912.8 1008.0 913.5 1010.9 914.1 1013.9 914.7 1016.8 915.3 1019.8 915.9 1022.7 916.5 1025.7 917.0 1028.7 917.5 1031.7 918.1 1034.6 918.6 1037.6 919.0 1040.6 919.5 1043.6 920.0 1046.6 920.4 1049.6 920.8 1052.6 921.2 1055.7 921.6 1058.7 922.0 1061.7 922.4 1064.7 922.8 1067.7 923.1 1070.8 923.4 1073.8 923.8 1076.8 924.1 1079.8 924.4 1082.9 924.7 1085.9 925.0 1088.9 925.3 1092.0 925.6 1095.0 925.9 1098.1 926.2 1101.1 926.4 1104.1 926.7 1107.2 926.9 1110.2 927.2 1113.3 927.4 1116.3 927.7 1119.3 927.9 1122.4 928.2 1125.4 928.4 1128.4 928.6 1131.5 928.9 1134.5 929.1 1137.5 929.4 1140.5 929.6 1143.6 929.8 1146.6 930.1 1149.6 930.3 1152.6 930.6 1155.6 930.8 1158.7 931.0 1161.7 931.3 1164.7 931.5 1167.7 931.8 1170.7 932.0 1173.7 932.3 1176.7 932.6 1179.7 932.8 1182.6 933.1 1185.6 933.3 1188.6 933.6 1191.6 933.8 1194.6 934.1 1197.6 934.4 1200.6 934.6 1203.5 934.9 1206.5 935.1 1209.5 935.4 1212.5 935.7 1215.4 935.9 1218.4 936.2 1221.4 936.4 1224.3 936.7 1227.3 937.0 1230.3 937.2 1233.2 937.5 1236.2 937.8 1239.2 938.0 1242.1 938.3 1245.1 938.5 1248.0 938.8 1251.0 939.0 1254.0 939.3 1256.9 939.5 1259.9 939.8 1262.8 940.1 1265.8 940.3 1268.7 940.5 1271.7 940.8 1274.6 941.0 1277.6 941.3 1280.6 941.5 1283.5 941.8 1286.5 942.0 1289.4 942.2 1292.4 942.5 1295.3 942.7 1298.3 942.9 1301.2 943.2 1304.2 943.4 1307.1 943.6 1310.1 943.8 1313.0 944.0 1316.0 944.2 1319.0 944.5 1321.9 944.7 1324.9 944.9 1327.8 945.1 1330.8 945.3 1333.8 945.5 1336.7 945.6 1339.7 945.8 1342.6 946.0 1345.6 946.2 1348.6 946.4 1351.5 946.5 1354.5 946.7 1357.5 946.9 1360.4 947.0 1363.4 947.2 1366.4 947.3 1369.4 947.5 1372.3 947.6 1375.3 947.8 1378.3 947.9 1381.3 948.0 1384.3 948.2 1387.2 948.3 1390.2 948.4 1393.2 948.5 1396.2 948.6 1399.2 948.7 1402.2 948.8 1405.2 948.9 1408.2 949.0 1411.2 949.0 1414.2 949.1 1417.2 949.2 1420.2 949.2 1423.2 949.3 1426.2 949.3 1429.3 949.4 1432.3 949.4 1435.3 949.4 1438.3 949.5 1441.4 949.5 1444.4 949.5 1447.4 949.5 1450.5 949.5 1453.5 949.5 1456.6 949.5 1459.6 949.4 1462.7 949.4 1465.7 949.4 1468.8 949.3 1471.8 949.3 1474.9 949.2 1478.0 949.1 1481.0 949.1 1484.1 949.0 1487.2 948.9 1490.3 948.8" stroke="#8a2be2" stroke-width="5.6" fill="none" stroke-linejoin="round" stroke-dasharray="20.72 8.96" stroke-dashoffset="9.06"/>
<path d="M140.3 378.7 143.2 378.6 146.1 378.5 149.0 378.3 151.9 378.2 154.9 378.0 157.8 377.9 160.7 377.8 163.7 377.6 166.6 377.5 169.6 377.4 172.6 377.3 175.5 377.1 178.5 377.0 181.5 376.9 184.4 376.8 187.4 376.7 190.4 376.5 193.4 376.4 196.4 376.3 199.4 376.2 202.4 376.1 205.3 376.1 208.3 376.0 211.3 375.9 214.4 375.8 217.4 375.8 220.4 375.7 223.4 375.7 226.4 375.6 229.4 375.6 232.4 375.5 235.4 375.5 238.4 375.5 241.5 375.5 244.5 375.5 247.5 375.5 250.5 375.5 253.5 375.5 256.6 375.6 259.6 375.6 262.6 375.7 265.6 375.8 268.6 375.8 271.7 375.9 274.7 376.0 277.7 376.1 280.7 376.3 283.7 376.4 286.7 376.6 289.8 376.7 292.8 376.9 295.8 377.1 298.8 377.3 301.8 377.5 304.8 377.7 307.8 378.0 310.8 378.2 313.8 378.5 316.8 378.8 319.8 379.1 322.8 379.4 325.8 379.7 328.8 380.1 331.8 380.4 334.7 380.8 337.7 381.2 340.7 381.6 343.7 382.1 346.6 382.5 349.6 383.0 352.6 383.5 355.5 384.0 358.5 384.5 361.4 385.0 364.3 385.6 367.3 386.2 370.2 386.8 373.1 387.4 376.1 388.0 379.0 388.7 381.9 389.4 384.8 390.1 387.7 390.8 390.6 391.6 393.5 392.3 396.4 393.1 399.2 393.9 402.1 394.8 405.0 395.6 407.8 396.5 410.7 397.4 413.5 398.4 416.3 399.3 419.2 400.3 422.0 401.3 424.8 402.3 427.6 403.4 430.4 404.5 433.2 405.6 436.0 406.7 438.7 407.9 441.5 409.0 444.3 410.3 447.0 411.5 449.8 412.8 452.5 414.1 455.2 415.4 457.9 416.7 460.6 418.1 463.3 419.5 466.0 420.9 468.6 422.3 471.3 423.8 473.9 425.3 476.5 426.8 479.1 428.4 481.7 430.0 484.3 431.5 486.8 433.2 489.4 434.8 491.9 436.5 494.4 438.2 496.9 439.9 499.4 441.7 501.8 443.4 504.3 445.2 506.7 447.0 509.1 448.9 511.4 450.7 513.8 452.6 516.1 454.5 518.4 456.5 520.7 458.4 523.0 460.4 525.2 462.4 527.4 464.4 529.6 466.5 531.8 468.5 533.9 470.6 536.0 472.8 538.1 474.9 540.2 477.0 542.2 479.2 544.2 481.4 546.2 483.7 548.2 485.9 550.1 488.2 552.0 490.5 553.8 492.8 555.7 495.1 557.5 497.5 559.2 499.8 561.0 502.2 562.7 504.6 564.4 507.1 566.0 509.5 567.6 512.0 569.2 514.5 570.7 517.0 572.2 519.6 573.7 522.1 575.1 524.7 576.5 527.3 577.9 529.9 579.2 532.5 580.5 535.2 581.7 537.8 582.9 540.5 584.1 543.2 585.2 546.0 586.3 548.7 587.4 551.5 588.4 554.3 589.3 557.1 590.3 559.9 591.2 562.7 592.0 565.6 592.8 568.5 593.5 571.3 594.3 574.2 594.9 577.2 595.6 580.1 596.2 583.0 596.8 586.0 597.3 589.0 597.8 591.9 598.2 594.9 598.6 597.9 599.0 600.9 599.4 603.9 599.7 607.0 600.0 610.0 600.2 613.0 600.4 616.0 600.6 619.1 600.8 622.1 600.9 625.2 601.0 628.2 601.0 631.3 601.1 634.3 601.1 637.4 601.0 640.5 601.0 643.5 600.9 646.6 600.8 649.6 600.7 652.6 600.5 655.7 600.3 658.7 600.1 661.8 599.9 664.8 599.6 667.8 599.3 670.8 599.0 673.8 598.7 676.8 598.3 679.8 598.0 682.8 597.6 685.7 597.2 688.7 596.8 691.6 596.3 694.5 595.8 697.4 595.4 700.3 594.9 703.2 594.3 706.1 593.8 708.9 593.2 711.8 592.7 714.6 592.1 717.4 591.5 720.3 590.8 723.1 590.2 725.9 589.5 728.7 588.8 731.6 588.1 734.4 587.4 737.3 586.6 740.1 585.9 743.0 585.1 745.9 584.2 748.9 583.4 751.8 582.5 754.8 581.6 757.8 580.7 760.8 579.8 763.9 578.8 766.9 577.8 770.1 576.8 773.2 575.9 776.3 574.9 779.5 573.9 782.7 573.0 785.8 572.1 789.0 571.2 792.2 570.3 795.4 569.4 798.6 568.7 801.8 567.9 804.9 567.2 808.1 566.6 811.2 566.0 814.4 565.5 817.5 565.1 820.5 564.8 823.6 564.5 826.6 564.4 829.5 564.3 832.5 564.3 835.4 564.5 838.2 564.8 841.0 565.1 843.8 565.6 846.5 566.3 849.1 567.0 851.7 567.8 854.2 568.8 856.7 569.8 859.2 571.0 861.6 572.3 863.9 573.6 866.2 575.1 868.5 576.6 870.7 578.2 872.8 579.9 874.9 581.7 877.0 583.6 879.0 585.6 881.0 587.6 882.9 589.7 884.8 591.8 886.6 594.0 888.4 596.3 890.1 598.7 891.8 601.1 893.5 603.5 895.1 606.0 896.7 608.6 898.2 611.1 899.7 613.8 901.1 616.4 902.5 619.1 903.9 621.9 905.2 624.6 906.5 627.4 907.8 630.2 909.0 633.1 910.1 635.9 911.3 638.8 912.4 641.6 913.4 644.5 914.5 647.4 915.5 650.3 916.4 653.2 917.3 656.1 918.2 659.0 919.1 661.9 919.9 664.8 920.7 667.7 921.4 670.7 922.2 673.6 922.9 676.5 923.6 679.5 924.2 682.4 924.8 685.4 925.4 688.3 926.0 691.3 926.6 694.2 927.1 697.2 927.6 700.1 928.1 703.1 928.6 706.1 929.0 709.0 929.5 712.0 929.9 715.0 930.3 718.0 930.7 720.9 931.1 723.9 931.4 726.9 931.8 729.9 932.1 732.9 932.5 735.9 932.8 738.8 933.1 741.8 933.4 744.8 933.7 747.8 934.0 750.8 934.3 753.8 934.6 756.8 934.8 759.8 935.1 762.8 935.4 765.8 935.7 768.7 935.9 771.7 936.2 774.7 936.5 777.7 936.7 780.7 937.0 783.7 937.3 786.7 937.5 789.7 937.8 792.7 938.1 795.7 938.3 798.6 938.6 801.6 938.8 804.6 939.1 807.6 939.4 810.6 939.6 813.6 939.9 816.6 940.1 819.6 940.4 822.6 940.6 825.6 940.9 828.6 941.1 831.5 941.3 834.5 941.6 837.5 941.8 840.5 942.1 843.5 942.3 846.5 942.5 849.5 942.8 852.5 943.0 855.5 943.2 858.4 943.5 861.4 943.7 864.4 943.9 867.4 944.2 870.4 944.4 873.4 944.6 876.4 944.8 879.4 945.1 882.4 945.3 885.4 945.5 888.3 945.7 891.3 945.9 894.3 946.2 897.3 946.4 900.3 946.6 903.3 946.8 906.3 947.0 909.3 947.2 912.3 947.4 915.2 947.6 918.2 947.8 921.2 948.0 924.2 948.3 927.2 948.5 930.2 948.7 933.2 948.9 936.2 949.1 939.2 949.2 942.1 949.4 945.1 949.6 948.1 949.8 951.1 950.0 954.1 950.2 957.1 950.4 960.1 950.6 963.1 950.8 966.1 951.0 969.1 951.1 972.0 951.3 975.0 951.5 978.0 951.7 981.0 951.9 984.0 952.1 987.0 952.2 990.0 952.4 993.0 952.6 996.0 952.8 998.9 952.9 1001.9 953.1 1004.9 953.3 1007.9 953.4 1010.9 953.6 1013.9 953.8 1016.9 953.9 1019.9 954.1 1022.9 954.3 1025.8 954.4 1028.8 954.6 1031.8 954.7 1034.8 954.9 1037.8 955.1 1040.8 955.2 1043.8 955.4 1046.8 955.5 1049.8 955.7 1052.8 955.8 1055.7 956.0 1058.7 956.1 1061.7 956.3 1064.7 956.4 1067.7 956.6 1070.7 956.7 1073.7 956.8 1076.7 957.0 1079.7 957.1 1082.7 957.3 1085.6 957.4 1088.6 957.5 1091.6 957.7 1094.6 957.8 1097.6 957.9 1100.6 958.1 1103.6 958.2 1106.6 958.3 1109.6 958.5 1112.6 958.6 1115.5 958.7 1118.5 958.8 1121.5 959.0 1124.5 959.1 1127.5 959.2 1130.5 959.3 1133.5 959.5 1136.5 959.6 1139.5 959.7 1142.5 959.8 1145.5 959.9 1148.4 960.0 1151.4 960.2 1154.4 960.3 1157.4 960.4 1160.4 960.5 1163.4 960.6 1166.4 960.7 1169.4 960.8 1172.4 960.9 1175.4 961.0 1178.4 961.1 1181.4 961.2 1184.3 961.3 1187.3 961.4 1190.3 961.5 1193.3 961.6 1196.3 961.7 1199.3 961.8 1202.3 961.9 1205.3 962.0 1208.3 962.1 1211.3 962.2 1214.3 962.3 1217.3 962.4 1220.3 962.5 1223.3 962.6 1226.2 962.7 1229.2 962.7 1232.2 962.8 1235.2 962.9 1238.2 963.0 1241.2 963.1 1244.2 963.2 1247.2 963.2 1250.2 963.3 1253.2 963.4 1256.2 963.5 1259.2 963.5 1262.2 963.6 1265.2 963.7 1268.2 963.8 1271.2 963.8 1274.1 963.9 1277.1 964.0 1280.1 964.1 1283.1 964.1 1286.1 964.2 1289.1 964.3 1292.1 964.3 1295.1 964.4 1298.1 964.5 1301.1 964.5 1304.1 964.6 1307.1 964.6 1310.1 964.7 1313.1 964.8 1316.1 964.8 1319.1 964.9 1322.1 964.9 1325.1 965.0 1328.1 965.0 1331.1 965.1 1334.1 965.1 1337.1 965.2 1340.1 965.2 1343.1 965.3 1346.1 965.3 1349.1 965.4 1352.1 965.4 1355.1 965.5 1358.0 965.5 1361.0 965.6 1364.0 965.6 1367.0 965.7 1370.0 965.7 1373.0 965.7 1376.0 965.8 1379.0 965.8 1382.0 965.9 1385.0 965.9 1388.0 965.9 1391.0 966.0 1394.0 966.0 1397.0 966.0 1400.0 966.1 1403.0 966.1 1406.0 966.1 1409.0 966.2 1412.0 966.2 1415.0 966.2 1418.0 966.2 1421.0 966.3 1424.0 966.3 1427.0 966.3 1430.0 966.3 1433.0 966.4 1436.0 966.4 1439.0 966.4 1442.1 966.4 1445.1 966.4 1448.1 966.5 1451.1 966.5 1454.1 966.5 1457.1 966.5 1460.1 966.5 1463.1 966.5 1466.1 966.6 1469.1 966.6 1472.1 966.6 1475.1 966.6 1478.1 966.6 1481.1 966.6 1484.1 966.6 1487.1 966.6 1490.1 966.6" stroke="#00ffff" stroke-width="5.6" fill="none" stroke-linejoin="round" stroke-dasharray="20.72 8.96" stroke-dashoffset="3.20"/>
<path d="M140.3 399.7 143.2 399.7 146.1 399.8 149.0 399.8 151.9 399.8 154.9 399.8 157.8 399.8 160.7 399.8 163.7 399.8 166.6 399.8 169.6 399.8 172.6 399.8 175.5 399.8 178.5 399.8 181.5 399.8 184.4 399.8 187.4 399.9 190.4 399.9 193.4 399.9 196.4 399.9 199.4 399.9 202.4 400.0 205.4 400.0 208.4 400.0 211.4 400.1 214.4 400.1 217.4 400.2 220.4 400.2 223.4 400.3 226.4 400.3 229.4 400.4 232.4 400.5 235.5 400.6 238.5 400.7 241.5 400.8 244.5 400.9 247.5 401.0 250.6 401.1 253.6 401.2 256.6 401.4 259.6 401.5 262.6 401.7 265.7 401.9 268.7 402.1 271.7 402.2 274.7 402.4 277.7 402.7 280.8 402.9 283.8 403.1 286.8 403.4 289.8 403.6 292.8 403.9 295.8 404.2 298.8 404.5 301.8 404.8 304.8 405.1 307.8 405.5 310.8 405.9 313.8 406.2 316.8 406.6 319.8 407.0 322.7 407.4 325.7 407.9 328.7 408.3 331.6 408.8 334.6 409.3 337.6 409.8 340.5 410.3 343.5 410.8 346.4 411.4 349.3 412.0 352.3 412.6 355.2 413.2 358.1 413.8 361.1 414.5 364.0 415.1 366.9 415.8 369.8 416.5 372.7 417.3 375.5 418.0 378.4 418.8 381.3 419.6 384.2 420.4 387.0 421.3 389.9 422.1 392.7 423.0 395.5 423.9 398.4 424.9 401.2 425.8 404.0 426.8 406.8 427.8 409.6 428.9 412.4 429.9 415.2 431.0 417.9 432.1 420.7 433.2 423.4 434.4 426.2 435.6 428.9 436.8 431.6 438.1 434.3 439.3 437.0 440.6 439.7 442.0 442.4 443.3 445.1 444.7 447.7 446.1 450.4 447.6 453.0 449.0 455.6 450.5 458.2 452.1 460.8 453.6 463.4 455.2 465.9 456.8 468.5 458.4 471.0 460.1 473.6 461.8 476.1 463.5 478.5 465.2 481.0 467.0 483.5 468.7 485.9 470.5 488.3 472.4 490.7 474.2 493.1 476.1 495.4 478.0 497.8 479.9 500.1 481.9 502.4 483.9 504.7 485.9 506.9 487.9 509.2 489.9 511.4 492.0 513.6 494.1 515.7 496.2 517.9 498.3 520.0 500.5 522.1 502.6 524.1 504.8 526.2 507.0 528.2 509.3 530.2 511.5 532.1 513.8 534.1 516.1 536.0 518.4 537.9 520.7 539.7 523.1 541.5 525.4 543.3 527.8 545.1 530.2 546.8 532.6 548.5 535.1 550.2 537.5 551.8 540.0 553.4 542.5 555.0 545.0 556.6 547.5 558.1 550.0 559.5 552.6 561.0 555.2 562.4 557.8 563.8 560.4 565.1 563.0 566.4 565.6 567.7 568.2 568.9 570.9 570.1 573.6 571.3 576.3 572.4 579.0 573.5 581.7 574.5 584.4 575.5 587.2 576.5 589.9 577.5 592.7 578.4 595.5 579.3 598.3 580.1 601.1 581.0 603.9 581.7 606.7 582.5 609.5 583.2 612.4 583.9 615.3 584.5 618.1 585.1 621.0 585.7 623.9 586.2 626.8 586.7 629.7 587.2 632.6 587.6 635.6 588.0 638.5 588.4 641.5 588.7 644.4 589.0 647.4 589.3 650.4 589.5 653.4 589.7 656.4 589.9 659.4 590.0 662.4 590.1 665.4 590.2 668.4 590.2 671.5 590.2 674.5 590.2 677.6 590.1 680.6 590.0 683.7 589.9 686.7 589.7 689.8 589.5 692.9 589.2 696.0 589.0 699.1 588.7 702.1 588.3 705.2 588.0 708.3 587.6 711.4 587.1 714.6 586.7 717.7 586.2 720.8 585.7 723.9 585.3 727.0 584.7 730.1 584.2 733.2 583.7 736.4 583.2 739.5 582.6 742.6 582.1 745.7 581.5 748.8 581.0 751.9 580.5 755.0 580.0 758.1 579.5 761.1 579.0 764.2 578.5 767.3 578.1 770.3 577.6 773.4 577.2 776.4 576.8 779.5 576.5 782.5 576.2 785.5 575.9 788.5 575.7 791.5 575.4 794.5 575.3 797.4 575.2 800.4 575.1 803.3 575.1 806.2 575.1 809.2 575.2 812.0 575.3 814.9 575.5 817.8 575.8 820.6 576.1 823.4 576.5 826.2 577.0 829.0 577.5 831.8 578.1 834.5 578.8 837.2 579.6 839.9 580.4 842.6 581.3 845.2 582.3 847.8 583.4 850.4 584.5 852.9 585.7 855.4 587.0 857.9 588.4 860.3 589.8 862.7 591.3 865.0 592.9 867.2 594.6 869.5 596.3 871.6 598.1 873.7 600.0 875.8 601.9 877.8 604.0 879.7 606.1 881.6 608.2 883.4 610.5 885.1 612.8 886.8 615.1 888.4 617.5 890.0 620.0 891.5 622.5 892.9 625.1 894.4 627.7 895.7 630.4 897.0 633.1 898.3 635.9 899.5 638.6 900.7 641.5 901.9 644.3 903.0 647.2 904.0 650.1 905.1 653.0 906.1 656.0 907.1 658.9 908.0 661.9 908.9 664.9 909.8 667.9 910.7 670.9 911.5 673.9 912.3 676.9 913.1 679.9 913.9 682.9 914.7 685.9 915.4 688.9 916.1 691.9 916.9 694.9 917.5 697.9 918.2 700.9 918.9 703.9 919.5 706.9 920.2 709.9 920.8 712.9 921.4 715.9 922.0 718.9 922.5 721.8 923.1 724.8 923.7 727.8 924.2 730.8 924.7 733.8 925.2 736.8 925.7 739.8 926.2 742.7 926.7 745.7 927.1 748.7 927.6 751.7 928.0 754.7 928.4 757.6 928.8 760.6 929.2 763.6 929.6 766.6 930.0 769.6 930.4 772.5 930.8 775.5 931.1 778.5 931.5 781.5 931.8 784.4 932.1 787.4 932.5 790.4 932.8 793.4 933.1 796.3 933.4 799.3 933.7 802.3 934.0 805.3 934.3 808.2 934.6 811.2 934.8 814.2 935.1 817.1 935.4 820.1 935.6 823.1 935.9 826.1 936.2 829.0 936.4 832.0 936.6 835.0 936.9 838.0 937.1 840.9 937.4 843.9 937.6 846.9 937.9 849.9 938.1 852.8 938.3 855.8 938.6 858.8 938.8 861.8 939.0 864.7 939.2 867.7 939.5 870.7 939.7 873.7 939.9 876.6 940.1 879.6 940.4 882.6 940.6 885.6 940.8 888.6 941.0 891.5 941.2 894.5 941.5 897.5 941.7 900.5 941.9 903.5 942.1 906.4 942.3 909.4 942.5 912.4 942.7 915.4 942.9 918.4 943.1 921.3 943.3 924.3 943.5 927.3 943.7 930.3 943.9 933.3 944.1 936.3 944.3 939.2 944.5 942.2 944.7 945.2 944.9 948.2 945.1 951.2 945.3 954.2 945.5 957.1 945.7 960.1 945.9 963.1 946.1 966.1 946.3 969.1 946.4 972.1 946.6 975.1 946.8 978.0 947.0 981.0 947.2 984.0 947.3 987.0 947.5 990.0 947.7 993.0 947.9 996.0 948.0 999.0 948.2 1001.9 948.4 1004.9 948.6 1007.9 948.7 1010.9 948.9 1013.9 949.1 1016.9 949.2 1019.9 949.4 1022.9 949.6 1025.9 949.7 1028.8 949.9 1031.8 950.0 1034.8 950.2 1037.8 950.4 1040.8 950.5 1043.8 950.7 1046.8 950.8 1049.8 951.0 1052.8 951.1 1055.8 951.3 1058.8 951.4 1061.7 951.6 1064.7 951.7 1067.7 951.9 1070.7 952.0 1073.7 952.2 1076.7 952.3 1079.7 952.4 1082.7 952.6 1085.7 952.7 1088.7 952.9 1091.7 953.0 1094.7 953.1 1097.7 953.3 1100.7 953.4 1103.6 953.5 1106.6 953.7 1109.6 953.8 1112.6 953.9 1115.6 954.1 1118.6 954.2 1121.6 954.3 1124.6 954.4 1127.6 954.6 1130.6 954.7 1133.6 954.8 1136.6 954.9 1139.6 955.1 1142.6 955.2 1145.6 955.3 1148.6 955.4 1151.6 955.5 1154.6 955.6 1157.6 955.8 1160.5 955.9 1163.5 956.0 1166.5 956.1 1169.5 956.2 1172.5 956.3 1175.5 956.4 1178.5 956.5 1181.5 956.6 1184.5 956.7 1187.5 956.8 1190.5 956.9 1193.5 957.0 1196.5 957.1 1199.5 957.2 1202.5 957.3 1205.5 957.4 1208.5 957.5 1211.5 957.6 1214.5 957.7 1217.5 957.8 1220.5 957.9 1223.5 958.0 1226.5 958.1 1229.5 958.2 1232.5 958.3 1235.5 958.4 1238.4 958.4 1241.4 958.5 1244.4 958.6 1247.4 958.7 1250.4 958.8 1253.4 958.9 1256.4 958.9 1259.4 959.0 1262.4 959.1 1265.4 959.2 1268.4 959.3 1271.4 959.3 1274.4 959.4 1277.4 959.5 1280.4 959.6 1283.4 959.6 1286.4 959.7 1289.4 959.8 1292.4 959.8 1295.4 959.9 1298.4 960.0 1301.4 960.0 1304.4 960.1 1307.4 960.2 1310.4 960.2 1313.4 960.3 1316.4 960.4 1319.4 960.4 1322.3 960.5 1325.3 960.6 1328.3 960.6 1331.3 960.7 1334.3 960.7 1337.3 960.8 1340.3 960.8 1343.3 960.9 1346.3 960.9 1349.3 961.0 1352.3 961.1 1355.3 961.1 1358.3 961.2 1361.3 961.2 1364.3 961.2 1367.3 961.3 1370.3 961.3 1373.3 961.4 1376.3 961.4 1379.3 961.5 1382.3 961.5 1385.2 961.6 1388.2 961.6 1391.2 961.6 1394.2 961.7 1397.2 961.7 1400.2 961.8 1403.2 961.8 1406.2 961.8 1409.2 961.9 1412.2 961.9 1415.2 961.9 1418.2 962.0 1421.2 962.0 1424.2 962.0 1427.2 962.1 1430.1 962.1 1433.1 962.1 1436.1 962.2 1439.1 962.2 1442.1 962.2 1445.1 962.2 1448.1 962.3 1451.1 962.3 1454.1 962.3 1457.1 962.3 1460.1 962.4 1463.1 962.4 1466.0 962.4 1469.0 962.4 1472.0 962.5 1475.0 962.5 1478.0 962.5 1481.0 962.5 1484.0 962.5 1487.0 962.5 1490.0 962.6" stroke="#708090" stroke-width="5.6" fill="none" stroke-linejoin="round" stroke-dasharray="20.72 8.96" stroke-dashoffset="7.71"/>
<path d="M167.5 342.8 170.3 342.4 173.2 342.0 176.0 341.6 178.9 341.2 181.8 340.8 184.6 340.5 187.5 340.1 190.4 339.7 193.3 339.3 196.2 338.9 199.1 338.5 202.0 338.2 204.9 337.8 207.9 337.4 210.8 337.0 213.7 336.6 216.7 336.3 219.6 335.9 222.5 335.5 225.5 335.2 228.4 334.8 231.4 334.4 234.3 334.1 237.3 333.7 240.3 333.4 243.2 333.0 246.2 332.7 249.2 332.3 252.2 332.0 255.1 331.7 258.1 331.3 261.1 331.0 264.1 330.7 267.1 330.4 270.1 330.1 273.1 329.8 276.1 329.5 279.1 329.2 282.1 328.9 285.1 328.6 288.1 328.4 291.1 328.1 294.1 327.8 297.2 327.6 300.2 327.4 303.2 327.1 306.2 326.9 309.2 326.7 312.3 326.5 315.3 326.3 318.3 326.1 321.3 325.9 324.3 325.7 327.4 325.6 330.4 325.4 333.4 325.3 336.4 325.2 339.5 325.0 342.5 324.9 345.5 324.8 348.6 324.8 351.6 324.7 354.6 324.6 357.6 324.6 360.7 324.5 363.7 324.5 366.7 324.5 369.7 324.5 372.8 324.5 375.8 324.5 378.8 324.5 381.8 324.6 384.8 324.7 387.8 324.7 390.9 324.8 393.9 324.9 396.9 325.1 399.9 325.2 402.9 325.3 405.9 325.5 408.9 325.7 411.9 325.9 414.9 326.1 417.9 326.3 420.9 326.6 423.9 326.8 426.9 327.1 429.9 327.4 432.8 327.7 435.8 328.0 438.8 328.4 441.8 328.7 444.7 329.1 447.7 329.5 450.7 329.9 453.6 330.4 456.6 330.8 459.5 331.3 462.5 331.8 465.4 332.3 468.4 332.8 471.3 333.4 474.2 333.9 477.1 334.5 480.1 335.1 483.0 335.8 485.9 336.4 488.8 337.1 491.7 337.8 494.6 338.5 497.5 339.3 500.4 340.0 503.2 340.8 506.1 341.6 509.0 342.4 511.8 343.3 514.7 344.1 517.5 345.0 520.4 346.0 523.2 346.9 526.1 347.9 528.9 348.9 531.7 349.9 534.5 350.9 537.3 352.0 540.1 353.1 542.9 354.2 545.7 355.3 548.5 356.5 551.2 357.6 554.0 358.9 556.7 360.1 559.4 361.3 562.2 362.6 564.9 363.9 567.6 365.2 570.3 366.6 572.9 368.0 575.6 369.3 578.3 370.8 580.9 372.2 583.5 373.7 586.1 375.2 588.7 376.7 591.3 378.2 593.9 379.8 596.4 381.3 598.9 382.9 601.5 384.6 604.0 386.2 606.5 387.9 608.9 389.6 611.4 391.3 613.8 393.1 616.2 394.8 618.6 396.6 621.0 398.4 623.3 400.2 625.7 402.1 628.0 404.0 630.3 405.9 632.6 407.8 634.8 409.7 637.0 411.7 639.3 413.7 641.4 415.7 643.6 417.8 645.7 419.8 647.9 421.9 650.0 424.0 652.0 426.1 654.1 428.3 656.1 430.4 658.1 432.6 660.1 434.8 662.0 437.1 663.9 439.3 665.8 441.6 667.7 443.9 669.5 446.2 671.3 448.6 673.1 450.9 674.8 453.3 676.6 455.7 678.2 458.2 679.9 460.6 681.5 463.1 683.1 465.6 684.7 468.1 686.2 470.6 687.8 473.2 689.2 475.8 690.7 478.4 692.1 481.0 693.5 483.6 694.9 486.3 696.2 488.9 697.5 491.6 698.8 494.3 700.0 497.0 701.2 499.8 702.4 502.5 703.6 505.3 704.7 508.1 705.8 510.9 706.8 513.7 707.9 516.5 708.9 519.3 709.8 522.2 710.8 525.0 711.7 527.9 712.6 530.8 713.5 533.7 714.3 536.6 715.1 539.5 715.9 542.5 716.6 545.4 717.3 548.3 718.0 551.3 718.7 554.2 719.3 557.2 719.9 560.2 720.5 563.2 721.0 566.2 721.5 569.2 722.0 572.2 722.5 575.2 722.9 578.2 723.3 581.2 723.7 584.2 724.0 587.3 724.3 590.3 724.6 593.3 724.9 596.4 725.1 599.4 725.3 602.4 725.5 605.5 725.7 608.5 725.8 611.6 725.9 614.6 725.9 617.6 726.0 620.7 726.0 623.7 726.0 626.8 725.9 629.8 725.9 632.8 725.8 635.9 725.6 638.9 725.5 641.9 725.3 644.9 725.1 647.9 724.9 651.0 724.6 654.0 724.4 657.0 724.1 660.0 723.8 663.0 723.5 666.0 723.2 669.0 722.8 672.0 722.5 675.0 722.1 678.0 721.7 681.0 721.3 684.0 720.9 687.0 720.6 690.0 720.2 693.0 719.7 696.0 719.3 699.0 718.9 702.0 718.5 705.0 718.1 708.0 717.7 711.0 717.3 714.0 717.0 717.0 716.6 720.0 716.2 723.1 715.9 726.1 715.5 729.1 715.2 732.1 714.8 735.1 714.5 738.1 714.2 741.2 714.0 744.2 713.7 747.2 713.5 750.3 713.3 753.3 713.1 756.4 712.9 759.4 712.8 762.5 712.7 765.5 712.6 768.6 712.5 771.7 712.5 774.7 712.5 777.8 712.6 780.9 712.7 783.9 712.8 787.0 713.0 790.0 713.2 793.0 713.5 796.0 713.8 799.0 714.2 802.0 714.6 804.9 715.1 807.8 715.6 810.7 716.2 813.6 716.9 816.4 717.7 819.2 718.5 821.9 719.4 824.6 720.4 827.3 721.4 829.9 722.5 832.5 723.7 835.0 725.0 837.5 726.3 839.9 727.8 842.3 729.2 844.6 730.8 846.9 732.4 849.2 734.1 851.4 735.8 853.6 737.6 855.7 739.5 857.8 741.4 859.8 743.4 861.8 745.4 863.8 747.5 865.7 749.7 867.6 751.8 869.5 754.1 871.3 756.4 873.1 758.7 874.8 761.1 876.5 763.5 878.2 765.9 879.8 768.4 881.4 770.9 882.9 773.5 884.5 776.1 885.9 778.7 887.4 781.3 888.8 784.0 890.2 786.7 891.6 789.5 892.9 792.2 894.2 795.0 895.4 797.8 896.7 800.6 897.9 803.4 899.1 806.3 900.2 809.1 901.3 812.0 902.4 814.9 903.5 817.8 904.5 820.7 905.5 823.6 906.5 826.5 907.5 829.4 908.4 832.3 909.3 835.2 910.2 838.1 911.0 841.1 911.9 844.0 912.7 846.9 913.5 849.8 914.2 852.8 915.0 855.7 915.7 858.7 916.4 861.6 917.1 864.5 917.7 867.5 918.4 870.4 919.0 873.4 919.6 876.3 920.2 879.3 920.8 882.3 921.3 885.2 921.8 888.2 922.4 891.2 922.9 894.1 923.3 897.1 923.8 900.1 924.3 903.1 924.7 906.0 925.1 909.0 925.5 912.0 925.9 915.0 926.3 918.0 926.7 920.9 927.0 923.9 927.3 926.9 927.7 929.9 928.0 932.9 928.3 935.9 928.6 938.9 928.9 941.9 929.2 944.9 929.4 947.9 929.7 950.9 929.9 953.9 930.2 956.9 930.4 959.9 930.6 962.9 930.9 965.9 931.1 968.9 931.3 971.9 931.5 974.9 931.7 977.9 931.9 980.9 932.1 983.9 932.2 986.9 932.4 989.9 932.6 992.9 932.8 995.9 933.0 998.9 933.1 1001.9 933.3 1004.9 933.5 1007.9 933.6 1010.9 933.8 1014.0 934.0 1017.0 934.1 1020.0 934.3 1023.0 934.5 1026.0 934.6 1029.0 934.8 1032.0 935.0 1035.0 935.1 1038.0 935.3 1041.0 935.5 1044.0 935.7 1047.0 935.9 1050.0 936.0 1053.0 936.2 1056.0 936.4 1059.0 936.6 1062.0 936.8 1065.0 937.0 1067.9 937.2 1070.9 937.4 1073.9 937.6 1076.9 937.8 1079.9 937.9 1082.9 938.1 1085.9 938.3 1088.9 938.5 1091.9 938.7 1094.9 938.9 1097.9 939.1 1100.9 939.3 1103.9 939.5 1106.8 939.8 1109.8 940.0 1112.8 940.2 1115.8 940.4 1118.8 940.6 1121.8 940.8 1124.8 941.0 1127.8 941.2 1130.8 941.4 1133.7 941.6 1136.7 941.8 1139.7 942.0 1142.7 942.2 1145.7 942.4 1148.7 942.6 1151.7 942.9 1154.7 943.1 1157.6 943.3 1160.6 943.5 1163.6 943.7 1166.6 943.9 1169.6 944.1 1172.6 944.3 1175.6 944.5 1178.5 944.7 1181.5 944.9 1184.5 945.1 1187.5 945.3 1190.5 945.5 1193.5 945.7 1196.4 946.0 1199.4 946.2 1202.4 946.4 1205.4 946.6 1208.4 946.8 1211.4 947.0 1214.3 947.2 1217.3 947.4 1220.3 947.5 1223.3 947.7 1226.3 947.9 1229.3 948.1 1232.3 948.3 1235.2 948.5 1238.2 948.7 1241.2 948.9 1244.2 949.1 1247.2 949.3 1250.2 949.5 1253.1 949.6 1256.1 949.8 1259.1 950.0 1262.1 950.2 1265.1 950.4 1268.1 950.5 1271.1 950.7 1274.0 950.9 1277.0 951.0 1280.0 951.2 1283.0 951.4 1286.0 951.5 1289.0 951.7 1292.0 951.9 1295.0 952.0 1297.9 952.2 1300.9 952.3 1303.9 952.5 1306.9 952.6 1309.9 952.8 1312.9 952.9 1315.9 953.1 1318.9 953.2 1321.9 953.3 1324.9 953.5 1327.8 953.6 1330.8 953.7 1333.8 953.9 1336.8 954.0 1339.8 954.1 1342.8 954.2 1345.8 954.3 1348.8 954.5 1351.8 954.6 1354.8 954.7 1357.8 954.8 1360.8 954.9 1363.8 955.0 1366.8 955.1 1369.8 955.2 1372.8 955.2 1375.8 955.3 1378.8 955.4 1381.8 955.5 1384.8 955.6 1387.8 955.6 1390.8 955.7 1393.8 955.8 1396.8 955.8 1399.8 955.9 1402.8 955.9 1405.8 956.0 1408.8 956.0 1411.8 956.1 1414.8 956.1 1417.8 956.2 1420.8 956.2 1423.8 956.2 1426.8 956.2 1429.8 956.3 1432.8 956.3 1435.8 956.3 1438.9 956.3 1441.9 956.3 1444.9 956.3 1447.9 956.3 1450.9 956.3 1453.9 956.3 1456.9 956.2 1459.9 956.2 1463.0 956.2 1466.0 956.2 1469.0 956.1 1472.0 956.1 1475.0 956.0 1478.1 956.0 1481.1 955.9 1484.1 955.9 1487.1 955.8 1490.2 955.7" stroke="#cd853f" stroke-width="5.6" fill="none" stroke-linejoin="round" stroke-dasharray="20.72 8.96" stroke-dashoffset="10.87"/>
<path d="M265.8 295.6 268.7 294.3 271.6 293.1 274.5 291.9 277.4 290.7 280.2 289.5 283.1 288.3 286.0 287.1 288.9 286.0 291.7 284.8 294.6 283.7 297.5 282.5 300.4 281.4 303.2 280.3 306.1 279.1 308.9 278.0 311.8 276.9 314.7 275.8 317.5 274.7 320.4 273.7 323.2 272.6 326.1 271.5 328.9 270.5 331.7 269.4 334.6 268.4 337.4 267.3 340.3 266.3 343.1 265.3 345.9 264.3 348.8 263.3 351.6 262.3 354.4 261.3 357.3 260.3 360.1 259.3 362.9 258.4 365.8 257.4 368.6 256.4 371.4 255.5 374.3 254.6 377.1 253.6 379.9 252.7 382.7 251.8 385.6 250.9 388.4 250.0 391.2 249.1 394.0 248.2 396.9 247.3 399.7 246.4 402.5 245.5 405.3 244.6 408.2 243.8 411.0 242.9 413.8 242.1 416.7 241.2 419.5 240.4 422.3 239.6 425.1 238.7 428.0 237.9 430.8 237.1 433.6 236.3 436.5 235.5 439.3 234.7 442.1 233.9 445.0 233.1 447.8 232.3 450.7 231.6 453.5 230.8 456.3 230.0 459.2 229.3 462.0 228.5 464.9 227.8 467.7 227.0 470.6 226.3 473.4 225.6 476.3 224.8 479.1 224.1 482.0 223.4 484.9 222.7 487.7 222.0 490.6 221.3 493.5 220.6 496.3 219.9 499.2 219.2 502.1 218.5 505.0 217.8 507.8 217.1 510.7 216.4 513.6 215.8 516.5 215.1 519.4 214.4 522.3 213.8 525.2 213.1 528.1 212.5 531.0 211.8 533.9 211.2 536.8 210.6 539.7 209.9 542.7 209.3 545.6 208.7 548.5 208.1 551.4 207.4 554.4 206.8 557.3 206.2 560.3 205.6 563.2 205.0 566.2 204.4 569.1 203.8 572.1 203.2 575.0 202.6 578.0 202.0 581.0 201.4 584.0 200.9 586.9 200.3 589.9 199.7 592.9 199.2 595.9 198.6 598.9 198.0 601.9 197.5 604.9 197.0 607.9 196.4 610.9 195.9 613.9 195.4 616.9 194.8 619.9 194.3 622.9 193.8 625.9 193.3 628.9 192.8 631.9 192.4 635.0 191.9 638.0 191.4 641.0 191.0 644.0 190.5 647.1 190.1 650.1 189.6 653.1 189.2 656.1 188.8 659.2 188.4 662.2 188.0 665.2 187.6 668.3 187.2 671.3 186.8 674.3 186.4 677.4 186.1 680.4 185.7 683.5 185.4 686.5 185.1 689.5 184.8 692.6 184.4 695.6 184.2 698.6 183.9 701.7 183.6 704.7 183.3 707.8 183.1 710.8 182.8 713.8 182.6 716.9 182.4 719.9 182.2 722.9 182.0 726.0 181.8 729.0 181.6 732.0 181.5 735.1 181.4 738.1 181.2 741.1 181.1 744.1 181.0 747.2 180.9 750.2 180.8 753.2 180.8 756.2 180.7 759.2 180.7 762.3 180.7 765.3 180.7 768.3 180.7 771.3 180.7 774.3 180.7 777.3 180.8 780.3 180.9 783.3 180.9 786.3 181.0 789.3 181.2 792.3 181.3 795.2 181.4 798.2 181.6 801.2 181.8 804.2 182.0 807.2 182.2 810.1 182.4 813.1 182.7 816.1 182.9 819.0 183.2 822.0 183.5 824.9 183.8 827.9 184.2 830.8 184.5 833.7 184.9 836.7 185.3 839.6 185.7 842.5 186.1 845.4 186.5 848.4 187.0 851.3 187.5 854.2 188.0 857.1 188.5 860.0 189.1 862.9 189.6 865.7 190.2 868.6 190.8 871.5 191.4 874.4 192.1 877.2 192.7 880.1 193.4 882.9 194.1 885.8 194.8 888.6 195.6 891.4 196.4 894.3 197.1 897.1 198.0 899.9 198.8 902.7 199.7 905.5 200.5 908.3 201.4 911.1 202.4 913.9 203.3 916.6 204.3 919.4 205.3 922.1 206.3 924.9 207.3 927.6 208.4 930.4 209.5 933.1 210.6 935.8 211.7 938.5 212.9 941.2 214.1 943.9 215.3 946.6 216.5 949.3 217.8 952.0 219.0 954.6 220.4 957.3 221.7 959.9 223.1 962.6 224.4 965.2 225.8 967.8 227.3 970.4 228.8 973.0 230.2 975.6 231.8 978.2 233.3 980.8 234.9 983.3 236.5 985.9 238.1 988.4 239.7 990.9 241.4 993.4 243.1 995.8 244.8 998.3 246.6 1000.7 248.3 1003.2 250.2 1005.5 252.0 1007.9 253.8 1010.3 255.7 1012.6 257.6 1014.9 259.6 1017.2 261.5 1019.5 263.5 1021.7 265.5 1023.9 267.5 1026.1 269.6 1028.3 271.7 1030.4 273.8 1032.5 275.9 1034.6 278.1 1036.6 280.3 1038.6 282.5 1040.6 284.8 1042.5 287.0 1044.4 289.3 1046.3 291.7 1048.2 294.0 1050.0 296.4 1051.7 298.8 1053.5 301.2 1055.2 303.7 1056.8 306.1 1058.4 308.6 1060.0 311.2 1061.6 313.7 1063.0 316.3 1064.5 318.9 1065.9 321.5 1067.3 324.2 1068.6 326.9 1069.9 329.6 1071.2 332.3 1072.4 335.0 1073.6 337.8 1074.7 340.6 1075.8 343.4 1076.9 346.2 1077.9 349.0 1078.9 351.9 1079.9 354.8 1080.8 357.6 1081.7 360.5 1082.6 363.5 1083.4 366.4 1084.2 369.3 1085.0 372.3 1085.7 375.2 1086.4 378.2 1087.1 381.1 1087.7 384.1 1088.3 387.1 1088.9 390.1 1089.5 393.1 1090.0 396.1 1090.5 399.1 1091.0 402.1 1091.5 405.1 1091.9 408.1 1092.3 411.2 1092.7 414.2 1093.0 417.2 1093.3 420.2 1093.6 423.2 1093.9 426.2 1094.2 429.2 1094.4 432.2 1094.6 435.2 1094.8 438.2 1095.0 441.2 1095.2 444.2 1095.3 447.2 1095.4 450.1 1095.5 453.1 1095.6 456.1 1095.6 459.1 1095.7 462.0 1095.7 465.0 1095.7 468.0 1095.7 470.9 1095.6 473.9 1095.6 476.8 1095.5 479.8 1095.4 482.7 1095.3 485.7 1095.1 488.6 1095.0 491.6 1094.8 494.5 1094.6 497.5 1094.4 500.4 1094.2 503.3 1093.9 506.3 1093.7 509.2 1093.4 512.2 1093.1 515.1 1092.8 518.0 1092.5 521.0 1092.1 523.9 1091.8 526.8 1091.4 529.8 1091.0 532.7 1090.6 535.6 1090.2 538.6 1089.8 541.5 1089.3 544.4 1088.9 547.4 1088.4 550.3 1087.9 553.2 1087.4 556.2 1086.9 559.1 1086.4 562.0 1085.8 565.0 1085.3 567.9 1084.7 570.8 1084.1 573.8 1083.6 576.7 1082.9 579.7 1082.3 582.6 1081.7 585.6 1081.1 588.5 1080.4 591.5 1079.8 594.4 1079.1 597.4 1078.4 600.3 1077.7 603.3 1077.0 606.2 1076.3 609.2 1075.6 612.2 1074.8 615.1 1074.1 618.1 1073.3 621.1 1072.6 624.1 1071.8 627.0 1071.0 630.0 1070.2 633.0 1069.4 636.0 1068.6 639.0 1067.8 642.0 1067.0 645.0 1066.2 648.0 1065.4 651.0 1064.6 654.0 1063.7 657.0 1062.9 660.0 1062.1 663.0 1061.3 666.0 1060.6 669.0 1059.8 672.1 1059.0 675.1 1058.3 678.1 1057.5 681.1 1056.8 684.1 1056.1 687.1 1055.4 690.1 1054.8 693.1 1054.1 696.1 1053.5 699.1 1052.9 702.1 1052.4 705.1 1051.8 708.1 1051.3 711.1 1050.9 714.1 1050.4 717.1 1050.0 720.1 1049.6 723.1 1049.3 726.0 1049.0 729.0 1048.7 732.0 1048.5 734.9 1048.4 737.9 1048.2 740.8 1048.2 743.8 1048.1 746.7 1048.1 749.7 1048.2 752.6 1048.3 755.5 1048.5 758.4 1048.7 761.3 1049.0 764.2 1049.3 767.1 1049.7 770.0 1050.1 772.8 1050.6 775.6 1051.2 778.5 1051.8 781.3 1052.4 784.0 1053.1 786.8 1053.9 789.6 1054.7 792.3 1055.6 795.0 1056.5 797.6 1057.5 800.3 1058.5 802.9 1059.6 805.5 1060.8 808.0 1062.0 810.6 1063.2 813.0 1064.6 815.5 1065.9 817.9 1067.4 820.3 1068.9 822.7 1070.4 825.0 1072.1 827.2 1073.7 829.5 1075.5 831.7 1077.3 833.8 1079.1 835.9 1081.0 838.0 1083.0 840.0 1085.0 842.0 1087.1 844.0 1089.2 845.9 1091.4 847.8 1093.6 849.6 1095.8 851.5 1098.1 853.2 1100.5 855.0 1102.8 856.7 1105.3 858.4 1107.7 860.0 1110.2 861.6 1112.8 863.2 1115.3 864.7 1117.9 866.2 1120.6 867.7 1123.2 869.2 1126.0 870.6 1128.7 872.0 1131.4 873.3 1134.2 874.7 1137.0 876.0 1139.9 877.2 1142.7 878.5 1145.6 879.7 1148.5 880.9 1151.4 882.0 1154.3 883.2 1157.3 884.3 1160.2 885.4 1163.2 886.5 1166.2 887.5 1169.2 888.5 1172.2 889.5 1175.2 890.5 1178.2 891.4 1181.2 892.4 1184.3 893.3 1187.3 894.2 1190.3 895.0 1193.4 895.9 1196.4 896.7 1199.4 897.5 1202.5 898.3 1205.5 899.1 1208.5 899.8 1211.5 900.6 1214.5 901.3 1217.5 902.0 1220.5 902.7 1223.5 903.3 1226.5 904.0 1229.5 904.6 1232.5 905.3 1235.5 905.9 1238.5 906.5 1241.5 907.1 1244.4 907.6 1247.4 908.2 1250.4 908.7 1253.4 909.2 1256.3 909.8 1259.3 910.3 1262.3 910.7 1265.2 911.2 1268.2 911.7 1271.1 912.1 1274.1 912.6 1277.0 913.0 1280.0 913.4 1282.9 913.9 1285.9 914.3 1288.8 914.6 1291.8 915.0 1294.7 915.4 1297.6 915.8 1300.6 916.1 1303.5 916.5 1306.5 916.8 1309.4 917.2 1312.3 917.5 1315.3 917.8 1318.2 918.1 1321.1 918.4 1324.1 918.7 1327.0 919.0 1329.9 919.3 1332.9 919.6 1335.8 919.9 1338.7 920.2 1341.6 920.5 1344.6 920.7 1347.5 921.0 1350.4 921.3 1353.4 921.5 1356.3 921.8 1359.2 922.1 1362.2 922.3 1365.1 922.6 1368.0 922.8 1371.0 923.1 1373.9 923.3 1376.8 923.6 1379.8 923.8 1382.7 924.1 1385.6 924.3 1388.6 924.6 1391.5 924.8 1394.5 925.1 1397.4 925.4 1400.3 925.6 1403.3 925.9 1406.2 926.2 1409.2 926.4 1412.1 926.7 1415.1 927.0 1418.1 927.3 1421.0 927.5 1424.0 927.8 1426.9 928.1 1429.9 928.4 1432.9 928.7 1435.8 929.1 1438.8 929.4 1441.8 929.7 1444.8 930.0 1447.8 930.4 1450.7 930.7 1453.7 931.1 1456.7 931.4 1459.7 931.8 1462.7 932.2 1465.7 932.6 1468.7 933.0 1471.7 933.4 1474.7 933.8 1477.7 934.2 1480.8 934.7 1483.8 935.1 1486.8 935.6 1489.8 936.0" stroke="#ff0000" stroke-width="5.6" fill="none" stroke-linejoin="round" stroke-dasharray="5.60 9.24" stroke-dashoffset="8.40"/>
<path d="M277.8 297.2 280.6 296.5 283.5 295.8 286.3 295.1 289.2 294.4 292.0 293.6 294.9 292.9 297.7 292.2 300.6 291.5 303.5 290.8 306.3 290.1 309.2 289.4 312.1 288.7 315.0 288.0 317.8 287.3 320.7 286.6 323.6 285.9 326.5 285.2 329.4 284.5 332.3 283.8 335.1 283.1 338.0 282.4 340.9 281.7 343.8 281.0 346.7 280.3 349.6 279.7 352.5 279.0 355.5 278.3 358.4 277.6 361.3 277.0 364.2 276.3 367.1 275.6 370.0 275.0 372.9 274.3 375.9 273.7 378.8 273.0 381.7 272.4 384.6 271.7 387.6 271.1 390.5 270.5 393.4 269.8 396.4 269.2 399.3 268.6 402.3 268.0 405.2 267.4 408.1 266.8 411.1 266.1 414.0 265.5 417.0 265.0 419.9 264.4 422.9 263.8 425.8 263.2 428.8 262.6 431.7 262.1 434.7 261.5 437.6 260.9 440.6 260.4 443.6 259.8 446.5 259.3 449.5 258.8 452.5 258.2 455.4 257.7 458.4 257.2 461.4 256.7 464.3 256.2 467.3 255.7 470.3 255.2 473.2 254.7 476.2 254.3 479.2 253.8 482.2 253.3 485.1 252.9 488.1 252.4 491.1 252.0 494.1 251.6 497.0 251.1 500.0 250.7 503.0 250.3 506.0 249.9 509.0 249.5 512.0 249.1 514.9 248.7 517.9 248.4 520.9 248.0 523.9 247.7 526.9 247.3 529.9 247.0 532.9 246.7 535.8 246.3 538.8 246.0 541.8 245.7 544.8 245.4 547.8 245.2 550.8 244.9 553.8 244.6 556.8 244.4 559.8 244.1 562.8 243.9 565.7 243.7 568.7 243.5 571.7 243.3 574.7 243.1 577.7 242.9 580.7 242.7 583.7 242.5 586.7 242.4 589.7 242.3 592.7 242.1 595.7 242.0 598.7 241.9 601.6 241.8 604.6 241.7 607.6 241.6 610.6 241.6 613.6 241.5 616.6 241.5 619.6 241.4 622.6 241.4 625.6 241.4 628.6 241.4 631.5 241.4 634.5 241.5 637.5 241.5 640.5 241.6 643.5 241.6 646.5 241.7 649.5 241.8 652.5 241.9 655.4 242.0 658.4 242.2 661.4 242.3 664.4 242.5 667.4 242.6 670.3 242.8 673.3 243.0 676.3 243.2 679.3 243.5 682.3 243.7 685.2 243.9 688.2 244.2 691.2 244.5 694.2 244.8 697.1 245.1 700.1 245.4 703.1 245.7 706.0 246.1 709.0 246.5 712.0 246.8 714.9 247.2 717.9 247.6 720.9 248.1 723.8 248.5 726.8 249.0 729.7 249.4 732.7 249.9 735.7 250.4 738.6 250.9 741.6 251.5 744.5 252.0 747.5 252.6 750.4 253.2 753.4 253.8 756.3 254.4 759.2 255.0 762.2 255.6 765.1 256.3 768.0 257.0 771.0 257.7 773.9 258.4 776.8 259.1 779.7 259.9 782.6 260.6 785.5 261.4 788.4 262.2 791.3 263.0 794.2 263.9 797.1 264.7 800.0 265.6 802.9 266.5 805.7 267.4 808.6 268.3 811.4 269.3 814.3 270.3 817.1 271.2 819.9 272.2 822.7 273.3 825.5 274.3 828.3 275.4 831.1 276.5 833.9 277.6 836.7 278.7 839.4 279.8 842.2 281.0 844.9 282.2 847.6 283.4 850.4 284.6 853.1 285.8 855.8 287.1 858.4 288.4 861.1 289.7 863.8 291.0 866.4 292.4 869.0 293.8 871.6 295.2 874.2 296.6 876.8 298.0 879.4 299.5 882.0 301.0 884.5 302.5 887.1 304.0 889.6 305.5 892.1 307.1 894.6 308.7 897.0 310.3 899.5 312.0 901.9 313.6 904.3 315.3 906.7 317.0 909.1 318.8 911.5 320.5 913.8 322.3 916.2 324.1 918.5 326.0 920.8 327.8 923.1 329.7 925.3 331.6 927.6 333.5 929.8 335.5 932.0 337.5 934.1 339.5 936.3 341.5 938.4 343.6 940.6 345.7 942.7 347.8 944.7 349.9 946.8 352.1 948.8 354.2 950.8 356.4 952.8 358.7 954.8 360.9 956.7 363.2 958.6 365.5 960.5 367.8 962.4 370.2 964.3 372.5 966.1 374.9 967.9 377.3 969.7 379.7 971.5 382.2 973.2 384.6 974.9 387.1 976.6 389.6 978.3 392.1 979.9 394.7 981.6 397.2 983.2 399.8 984.7 402.4 986.3 405.0 987.8 407.6 989.3 410.2 990.8 412.9 992.3 415.5 993.7 418.2 995.1 420.9 996.5 423.6 997.8 426.3 999.2 429.0 1000.5 431.8 1001.7 434.5 1003.0 437.3 1004.2 440.1 1005.4 442.9 1006.6 445.7 1007.8 448.5 1008.9 451.3 1010.0 454.1 1011.1 456.9 1012.1 459.8 1013.1 462.6 1014.1 465.5 1015.1 468.4 1016.0 471.2 1017.0 474.1 1017.9 477.0 1018.7 479.9 1019.5 482.8 1020.4 485.7 1021.1 488.6 1021.9 491.5 1022.6 494.4 1023.3 497.3 1024.0 500.3 1024.6 503.2 1025.2 506.1 1025.8 509.1 1026.4 512.0 1026.9 514.9 1027.4 517.9 1027.9 520.8 1028.4 523.7 1028.8 526.7 1029.2 529.6 1029.6 532.6 1030.0 535.5 1030.3 538.5 1030.7 541.5 1031.0 544.4 1031.3 547.4 1031.6 550.4 1031.8 553.3 1032.1 556.3 1032.3 559.3 1032.5 562.2 1032.7 565.2 1032.9 568.2 1033.0 571.2 1033.2 574.2 1033.3 577.2 1033.5 580.2 1033.6 583.1 1033.7 586.1 1033.8 589.1 1033.9 592.1 1033.9 595.1 1034.0 598.1 1034.1 601.1 1034.1 604.1 1034.2 607.2 1034.2 610.2 1034.3 613.2 1034.3 616.2 1034.3 619.2 1034.3 622.2 1034.3 625.2 1034.4 628.3 1034.4 631.3 1034.4 634.3 1034.4 637.3 1034.4 640.4 1034.4 643.4 1034.4 646.4 1034.5 649.5 1034.5 652.5 1034.5 655.5 1034.5 658.6 1034.6 661.6 1034.6 664.6 1034.6 667.7 1034.7 670.7 1034.7 673.8 1034.8 676.8 1034.9 679.9 1034.9 682.9 1035.0 686.0 1035.1 689.0 1035.2 692.1 1035.3 695.1 1035.5 698.2 1035.6 701.2 1035.7 704.3 1035.9 707.3 1036.1 710.4 1036.3 713.4 1036.5 716.5 1036.8 719.5 1037.0 722.5 1037.3 725.5 1037.6 728.6 1038.0 731.6 1038.3 734.6 1038.7 737.6 1039.1 740.5 1039.5 743.5 1040.0 746.5 1040.5 749.4 1041.0 752.3 1041.6 755.3 1042.2 758.2 1042.8 761.1 1043.5 763.9 1044.2 766.8 1044.9 769.6 1045.7 772.4 1046.5 775.2 1047.4 778.0 1048.3 780.8 1049.3 783.5 1050.3 786.2 1051.3 788.9 1052.4 791.6 1053.5 794.2 1054.7 796.9 1055.9 799.5 1057.1 802.0 1058.4 804.6 1059.7 807.1 1061.1 809.6 1062.5 812.1 1064.0 814.5 1065.5 816.9 1067.0 819.3 1068.6 821.6 1070.3 824.0 1071.9 826.2 1073.6 828.5 1075.4 830.7 1077.2 832.9 1079.0 835.1 1080.9 837.2 1082.8 839.3 1084.8 841.4 1086.8 843.4 1088.8 845.4 1090.9 847.3 1093.0 849.2 1095.1 851.1 1097.3 852.9 1099.6 854.7 1101.9 856.5 1104.2 858.2 1106.5 859.9 1108.9 861.6 1111.3 863.2 1113.8 864.8 1116.2 866.4 1118.7 867.9 1121.3 869.4 1123.8 870.9 1126.4 872.3 1129.1 873.7 1131.7 875.1 1134.4 876.4 1137.1 877.7 1139.8 879.0 1142.5 880.2 1145.3 881.5 1148.1 882.7 1150.9 883.8 1153.7 885.0 1156.6 886.1 1159.4 887.2 1162.3 888.3 1165.2 889.3 1168.1 890.3 1171.0 891.3 1173.9 892.3 1176.8 893.2 1179.8 894.2 1182.7 895.1 1185.7 895.9 1188.7 896.8 1191.6 897.6 1194.6 898.5 1197.6 899.3 1200.6 900.0 1203.6 900.8 1206.6 901.5 1209.5 902.3 1212.5 903.0 1215.5 903.7 1218.5 904.3 1221.5 905.0 1224.5 905.6 1227.5 906.2 1230.6 906.8 1233.6 907.4 1236.6 908.0 1239.6 908.6 1242.6 909.1 1245.6 909.6 1248.6 910.2 1251.6 910.7 1254.7 911.2 1257.7 911.6 1260.7 912.1 1263.7 912.6 1266.8 913.0 1269.8 913.4 1272.8 913.9 1275.8 914.3 1278.9 914.7 1281.9 915.1 1284.9 915.4 1287.9 915.8 1291.0 916.2 1294.0 916.5 1297.0 916.9 1300.0 917.2 1303.1 917.5 1306.1 917.8 1309.1 918.2 1312.1 918.5 1315.2 918.8 1318.2 919.1 1321.2 919.4 1324.2 919.6 1327.3 919.9 1330.3 920.2 1333.3 920.5 1336.3 920.7 1339.3 921.0 1342.3 921.3 1345.4 921.5 1348.4 921.8 1351.4 922.0 1354.4 922.3 1357.4 922.5 1360.4 922.8 1363.4 923.0 1366.4 923.3 1369.4 923.5 1372.4 923.7 1375.4 924.0 1378.4 924.2 1381.4 924.5 1384.4 924.7 1387.3 925.0 1390.3 925.2 1393.3 925.5 1396.3 925.8 1399.2 926.0 1402.2 926.3 1405.2 926.6 1408.1 926.8 1411.1 927.1 1414.1 927.4 1417.0 927.7 1420.0 928.0 1422.9 928.3 1425.8 928.6 1428.8 928.9 1431.7 929.2 1434.6 929.6 1437.6 929.9 1440.5 930.2 1443.4 930.6 1446.3 931.0 1449.2 931.3 1452.1 931.7 1455.0 932.1 1457.9 932.5 1460.8 932.9 1463.7 933.3 1466.5 933.8 1469.4 934.2 1472.3 934.6 1475.1 935.1 1478.0 935.6 1480.8 936.1 1483.7 936.6 1486.5 937.1 1489.3 937.6" stroke="#0000ff" stroke-width="5.6" fill="none" stroke-linejoin="round" stroke-dasharray="5.60 9.24" stroke-dashoffset="10.43"/>
</g>
<rect x="153.9" y="20.9" width="1326.1" height="987.8000000000001" fill="none" stroke="#000" stroke-width="5.6" stroke-linejoin="miter"/>
<text transform="translate(198.98,1057.80) scale(1.0500,1)" font-size="42.6">10</text>
<text transform="translate(431.68,1057.80) scale(1.0351,1)" font-size="42.6">11</text>
<text transform="translate(664.35,1057.80) scale(1.0290,1)" font-size="42.6">12</text>
<text transform="translate(896.95,1057.80) scale(1.0419,1)" font-size="42.6">13</text>
<text transform="translate(1129.58,1057.80) scale(1.0496,1)" font-size="42.6">14</text>
<text transform="translate(1362.28,1057.80) scale(1.0327,1)" font-size="42.6">15</text>
<text transform="translate(72.20,1023.70) scale(1.0637,1)" font-size="42.6">0.0</text>
<text transform="translate(72.22,859.07) scale(1.0506,1)" font-size="42.6">0.5</text>
<text transform="translate(72.33,694.43) scale(1.0614,1)" font-size="42.6">1.0</text>
<text transform="translate(72.38,529.80) scale(1.0480,1)" font-size="42.6">1.5</text>
<text transform="translate(71.99,365.17) scale(1.0674,1)" font-size="42.6">2.0</text>
<text transform="translate(72.01,200.53) scale(1.0543,1)" font-size="42.6">2.5</text>
<text transform="translate(72.68,35.90) scale(1.0554,1)" font-size="42.6">3.0</text>
<text transform="translate(742.80,1117.80) scale(0.833,1)" font-size="50.7" font-style="italic" style="stroke-width:1.3px">R</text>
<text transform="translate(776.90,1114.50) scale(1.100,1)" font-size="46.7">[</text>
<text transform="translate(795.70,1117.80) scale(1.067,1)" font-size="51.2">k</text>
<text transform="translate(823.50,1117.80) scale(1.134,1)" font-size="50">m</text>
<text transform="translate(874.70,1114.50) scale(1.100,1)" font-size="46.7">]</text>
<g transform="rotate(-90)"><text transform="translate(-591.20,44.00) scale(0.950,1)" font-size="51.2" font-style="italic" style="stroke-width:1.3px">M</text><text transform="translate(-548.20,40.80) scale(1.070,1)" font-size="46.5">[</text><text transform="translate(-529.60,44.00) scale(0.950,1)" font-size="51.2">M</text><text transform="translate(-454.40,40.80) scale(1.070,1)" font-size="46.5">]</text></g>
<circle cx="41.4" cy="474.3" r="9.8" fill="none" stroke="#000" stroke-width="2.6"/><rect x="39.3" y="472.5" width="4.6" height="3.6" fill="#000"/>
<path d="M1148 74.3H1235.6" stroke="#0000ff" stroke-width="5.6" fill="none"/>
<text transform="translate(1265.58,88.6) scale(1.0200,1)" font-size="42.4">DD2</text>
<path d="M1148 134.2H1235.6" stroke="#ff0000" stroke-width="5.6" fill="none"/>
<text transform="translate(1265.56,148.5) scale(1.0261,1)" font-size="42.4">DDLZ1</text>
<path d="M1148 194.2H1235.6" stroke="#bfbf00" stroke-width="5.6" fill="none"/>
<text transform="translate(1265.66,208.5) scale(0.9972,1)" font-size="42.4">DDME1</text>
<path d="M1148 254.1H1235.6" stroke="#008000" stroke-width="5.6" fill="none"/>
<text transform="translate(1265.67,268.4) scale(0.9954,1)" font-size="42.4">DDME2</text>
<path d="M1148 314.0H1235.6" stroke="#00bfbf" stroke-width="5.6" fill="none"/>
<text transform="translate(1265.69,328.3) scale(0.9881,1)" font-size="42.4">DDMEX</text>
<path d="M1148 373.9H1235.6" stroke="#bf00bf" stroke-width="5.6" fill="none"/>
<text transform="translate(1265.66,388.2) scale(0.9967,1)" font-size="42.4">DDMEX1</text>
<path d="M1148 433.9H1235.6" stroke="#ffa500" stroke-width="5.6" fill="none"/>
<text transform="translate(1265.72,448.2) scale(0.9798,1)" font-size="42.4">DDMEXY</text>
<path d="M1148 493.8H1235.6" stroke="#008080" stroke-width="5.6" fill="none"/>
<text transform="translate(1265.60,508.1) scale(1.0157,1)" font-size="42.4">DDT</text>
<path d="M1150.8 553.7H1231" stroke="#8a2be2" stroke-width="5.6" stroke-dasharray="20.72 8.96" fill="none"/>
<text transform="translate(1265.62,568.0) scale(1.0079,1)" font-size="42.4">DDV</text>
<path d="M1150.8 613.7H1231" stroke="#00ffff" stroke-width="5.6" stroke-dasharray="20.72 8.96" fill="none"/>
<text transform="translate(1265.62,628.0) scale(1.0099,1)" font-size="42.4">DDVT</text>
<path d="M1150.8 673.6H1231" stroke="#708090" stroke-width="5.6" stroke-dasharray="20.72 8.96" fill="none"/>
<text transform="translate(1265.64,687.9) scale(1.0043,1)" font-size="42.4">DDVTD</text>
<path d="M1150.8 733.5H1231" stroke="#cd853f" stroke-width="5.6" stroke-dasharray="20.72 8.96" fill="none"/>
<text transform="translate(1263.99,747.8) scale(1.0419,1)" font-size="42.4">TW99</text>
<path d="M1150.8 793.5H1231" stroke="#ff0000" stroke-width="5.6" stroke-dasharray="5.60 9.24" fill="none"/>
<text transform="translate(1265.67,807.8) scale(0.9952,1)" font-size="42.4">DDMEX2</text>
<path d="M1150.8 853.4H1231" stroke="#0000ff" stroke-width="5.6" stroke-dasharray="5.60 9.24" fill="none"/>
<text transform="translate(1265.78,867.7) scale(0.9621,1)" font-size="42.4">PKDD</text>
</svg></body></html>
